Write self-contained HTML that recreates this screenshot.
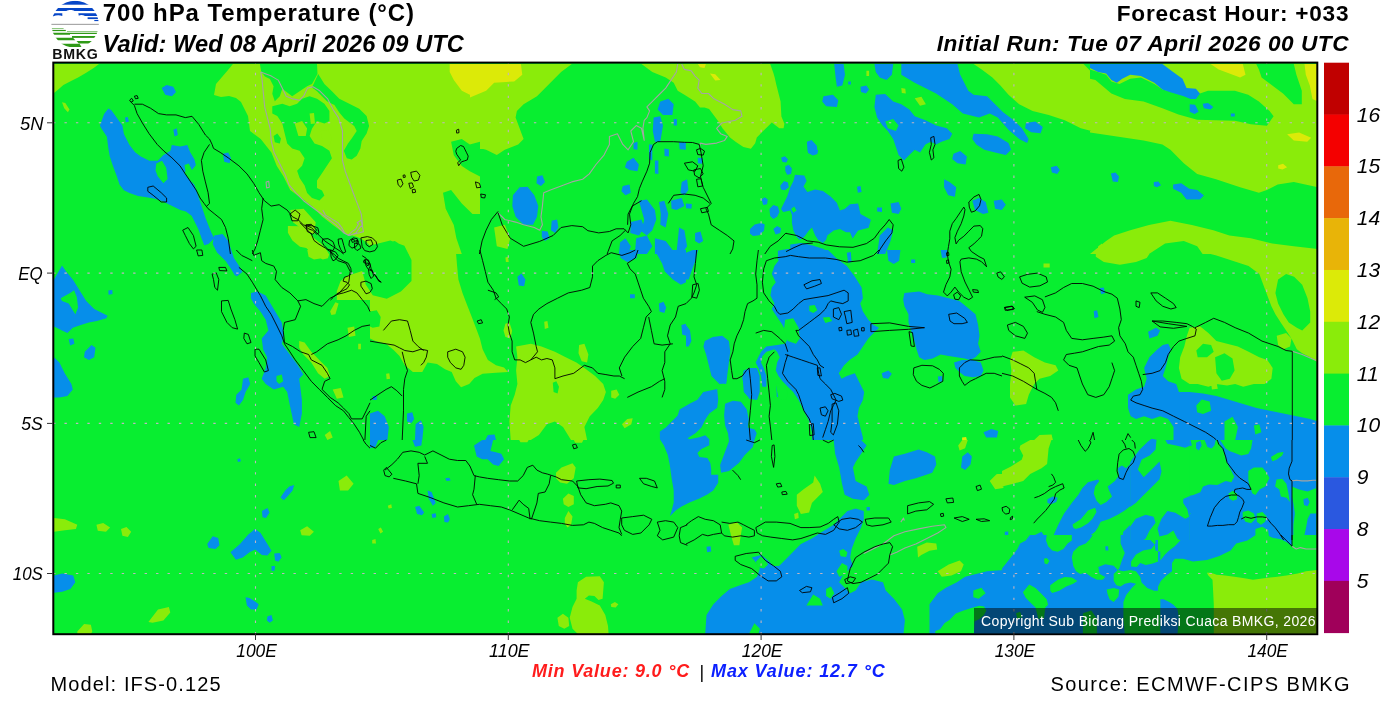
<!DOCTYPE html>
<html><head><meta charset="utf-8"><style>
html,body{margin:0;padding:0;background:#fff;width:1400px;height:709px;overflow:hidden}
svg{position:absolute;left:0;top:0}
text{font-family:"Liberation Sans",Arial,sans-serif}
</style></head><body>
<svg width="1400" height="709" viewBox="0 0 1400 709">
<defs><clipPath id="mc"><rect x="53.3" y="62.6" width="1264.0" height="571.6"/></clipPath></defs>
<g clip-path="url(#mc)">
<rect x="0" y="0" width="1400" height="709" fill="#08ee30"/>
<path d="M54.0,64.0 L99.0,64.0 L93.7,68.0 L86.2,72.8 L78.1,77.4 L70.1,81.4 L63.4,84.9 L58.0,89.7 L54.0,92.9Z M62.0,102.3 L65.3,103.1 L69.5,109.6 L67.9,112.2 L64.2,108.2Z M232.9,64.0 L480.0,64.0 L480.0,254.0 L378.7,254.0 L376.0,246.3 L368.0,241.0 L357.2,236.9 L343.8,232.9 L333.0,224.9 L322.4,216.8 L311.7,206.0 L301.0,198.0 L290.2,190.0 L283.5,176.6 L276.8,165.9 L271.4,152.5 L260.7,139.0 L250.0,131.0 L248.0,116.0 L244.0,108.0 L241.0,102.0 L236.0,98.0 L229.0,96.0 L221.0,97.0 L214.0,95.0 L216.0,84.0 L222.0,77.0 L228.0,70.0Z M470.0,64.0 L571.8,64.0 L561.1,72.0 L547.7,85.4 L537.0,96.2 L523.6,104.2 L516.9,110.9 L515.6,117.6 L519.6,128.3 L523.6,139.0 L518.2,144.4 L504.8,149.8 L496.8,155.1 L486.1,149.8 L475.4,147.1 L470.0,149.8Z M470.0,163.2 L476.7,171.2 L478.6,190.0 L476.7,206.1 L475.4,219.5 L470.0,223.5Z M494.1,227.5 L504.8,224.8 L510.2,238.2 L507.5,248.9 L496.8,246.3Z M641.5,64.0 L770.2,64.0 L773.4,73.1 L774.7,77.4 L776.4,84.9 L780.6,101.5 L781.4,116.5 L784.4,123.8 L783.6,128.3 L779.3,128.3 L771.8,122.4 L768.8,125.4 L762.7,131.5 L756.8,137.4 L755.2,143.3 L750.9,148.7 L743.4,147.1 L735.9,142.0 L730.0,137.4 L722.5,128.3 L717.9,120.8 L709.1,109.0 L704.5,107.4 L700.0,107.4 L695.1,101.5 L684.4,94.8 L677.7,90.8 L673.7,82.8 L665.7,77.4 L652.3,72.0Z M973.6,64.0 L1083.5,64.0 L1091.5,72.0 L1102.0,77.4 L1102.0,133.7 L1080.8,128.3 L1064.7,120.3 L1048.7,114.9 L1032.6,110.9 L1019.2,104.2 L1008.5,94.8 L1000.4,85.4 L992.4,77.4 L981.7,69.4Z M901.3,88.1 L905.3,88.7 L905.8,93.5 L901.8,92.9Z M914.7,98.3 L921.4,96.7 L925.9,104.2 L920.0,105.8Z M866.4,70.7 L869.1,70.7 L869.1,76.1 L866.4,76.1Z M1098.2,246.3 L1102.0,243.6 L1102.0,254.0 L1096.9,254.0Z M1090.0,64.0 L1317.9,64.0 L1317.9,187.3 L1293.8,182.0 L1277.7,184.6 L1266.9,190.0 L1258.9,192.7 L1240.1,187.3 L1216.0,179.3 L1197.2,173.9 L1183.8,163.2 L1170.4,149.8 L1162.4,144.4 L1143.6,140.4 L1116.8,136.4 L1090.0,132.4Z M1090.0,254.1 L1106.1,240.9 L1114.1,235.6 L1130.2,230.2 L1149.0,224.9 L1170.4,220.8 L1191.9,224.9 L1213.3,230.2 L1229.4,235.6 L1250.9,238.3 L1272.3,243.6 L1293.8,246.3 L1317.9,249.0 L1317.9,254.1Z M307.3,250.0 L324.7,250.0 L323.4,258.0 L314.0,259.4 L308.6,256.7Z M330.1,311.6 L335.4,302.3 L338.6,303.6 L335.4,314.3 L331.4,314.9Z M347.5,327.7 L354.2,326.4 L355.5,335.8 L348.8,337.1Z M299.2,341.1 L304.6,342.5 L311.3,351.8 L319.3,359.9 L327.4,367.9 L330.1,376.0 L324.7,378.7 L318.0,373.3 L311.3,362.6 L303.3,354.5 L299.2,347.8Z M332.7,389.4 L340.8,388.0 L343.5,397.4 L336.8,398.8Z M324.7,434.9 L330.1,430.9 L332.7,437.6 L327.4,440.0Z M358.2,343.8 L360.9,343.8 L360.9,349.2 L358.2,349.2Z M407.5,250.0 L455.8,250.0 L457.1,266.1 L458.4,279.5 L462.5,292.9 L466.5,303.6 L471.8,317.0 L475.9,327.7 L479.9,338.4 L482.6,349.2 L487.9,359.9 L496.0,365.3 L504.0,367.4 L508.0,372.0 L496.0,372.8 L482.6,373.8 L474.5,378.1 L469.2,384.0 L461.1,387.2 L455.8,381.3 L451.7,372.0 L445.0,369.3 L437.0,363.9 L427.6,362.6 L422.3,372.0 L412.9,372.0 L404.8,365.3 L399.5,355.9 L394.1,350.5 L386.1,343.8 L375.4,341.1 L370.0,338.4 L370.0,284.8 L378.0,290.2 L386.1,292.9 L396.8,287.5 L407.5,276.8 L410.2,266.1Z M516.1,346.5 L530.8,343.8 L541.5,346.5 L554.9,351.8 L565.7,357.2 L576.4,362.6 L584.4,367.9 L595.1,376.0 L603.2,384.0 L605.9,392.1 L603.2,400.1 L597.8,408.1 L589.8,416.2 L584.4,426.9 L587.1,440.0 L571.0,440.0 L563.0,426.9 L554.9,421.5 L546.9,424.2 L538.9,434.9 L530.8,440.0 L510.7,440.0 L509.4,421.5 L510.7,405.5 L514.7,394.7 L517.4,384.0 L516.1,370.6 L517.4,357.2Z M505.4,323.7 L509.4,322.4 L512.1,330.4 L510.7,338.4 L505.4,337.1 L503.5,330.4Z M544.2,321.8 L547.4,321.0 L548.5,327.7 L544.8,329.1Z M579.1,345.1 L584.4,343.8 L588.4,354.5 L587.1,362.6 L581.7,361.2 L578.5,353.2Z M611.2,390.7 L616.6,389.4 L619.3,394.7 L615.2,398.8 L611.2,397.4Z M621.9,424.2 L627.3,418.9 L632.7,418.3 L631.3,424.2 L624.6,428.2Z M505.4,257.5 L508.0,256.7 L508.8,262.1 L505.9,262.1Z M386.1,373.8 L389.3,373.3 L390.1,378.7 L386.6,379.2Z M1095.8,250.0 L1152.1,250.0 L1146.7,258.0 L1136.0,262.1 L1119.9,264.7 L1103.8,262.1 L1095.8,256.7Z M1195.0,250.0 L1318.0,250.0 L1318.0,362.6 L1310.2,357.2 L1302.2,353.2 L1296.8,349.2 L1291.5,338.4 L1286.1,330.4 L1280.7,322.4 L1275.4,314.3 L1271.4,306.3 L1267.3,295.6 L1263.3,284.8 L1259.3,274.1 L1248.6,266.1 L1232.5,260.7 L1216.4,255.4Z M1276.7,335.8 L1286.1,333.1 L1291.5,338.4 L1290.1,346.5 L1283.4,349.2 L1278.1,345.1Z M1189.6,327.7 L1200.3,326.4 L1208.4,333.1 L1216.4,341.1 L1227.1,343.8 L1237.9,346.5 L1248.6,351.8 L1259.3,357.2 L1267.3,359.9 L1272.7,367.9 L1271.4,378.7 L1264.7,384.0 L1253.9,384.0 L1243.2,386.7 L1235.2,384.0 L1227.1,385.4 L1216.4,384.0 L1208.4,386.7 L1197.7,384.0 L1189.6,384.0 L1181.6,378.7 L1178.9,367.9 L1180.2,357.2 L1184.3,346.5 L1186.9,335.8Z M1211.1,382.7 L1216.4,382.1 L1217.8,388.8 L1211.9,389.4Z M1012.7,351.8 L1023.4,350.5 L1034.2,357.2 L1044.9,362.6 L1055.6,365.3 L1058.3,370.6 L1050.2,376.0 L1039.5,378.7 L1034.2,384.0 L1028.8,394.7 L1026.1,404.1 L1015.4,405.5 L1010.0,397.4 L1010.0,384.0 L1011.4,370.6 L1010.0,359.9Z M1043.5,263.4 L1049.7,263.4 L1049.7,267.4 L1043.5,267.4Z M1034.2,440.0 L1039.5,434.9 L1051.6,434.4 L1052.9,440.0Z M54.0,518.0 L64.9,519.3 L77.3,524.8 L75.9,528.9 L64.9,530.3 L54.0,531.7Z M96.4,524.8 L103.2,522.9 L110.1,527.6 L106.0,531.7 L97.8,530.8Z M121.0,528.9 L126.5,527.0 L131.2,531.7 L127.9,537.1 L122.4,535.8Z M338.5,481.0 L346.7,475.6 L353.6,483.8 L348.1,490.6 L339.9,490.6Z M300.2,530.3 L307.1,526.2 L313.9,531.7 L309.8,535.8 L301.6,535.2Z M148.4,621.9 L158.0,609.6 L168.9,606.9 L170.3,612.4 L163.4,620.6 L152.5,622.8Z M77.3,631.5 L84.1,623.9 L90.9,624.7 L92.3,631.5 L90.9,634.0 L77.3,634.0Z M556.0,472.8 L561.5,467.4 L572.5,463.3 L575.7,467.4 L573.8,478.3 L567.0,483.8 L560.2,482.4 L556.0,478.3Z M562.9,498.8 L568.4,493.4 L573.8,496.1 L573.8,504.3 L568.4,507.0 L563.7,504.3Z M564.8,518.0 L568.4,511.1 L572.5,516.6 L571.1,524.8 L567.5,527.6 L564.8,523.4Z M577.9,582.3 L586.1,576.8 L599.8,576.3 L603.9,582.3 L602.6,598.7 L598.5,600.1 L594.4,596.0 L588.9,595.4 L584.8,598.7 L591.6,601.4 L599.8,605.5 L605.3,615.1 L608.0,626.0 L608.6,634.0 L577.9,634.0 L572.5,628.8 L569.7,617.8 L572.5,606.9 L576.6,598.7 L576.6,590.5Z M557.4,617.8 L562.9,613.7 L568.4,617.8 L569.2,626.0 L564.3,628.8 L558.8,626.0Z M610.8,604.2 L614.9,602.0 L618.4,604.2 L615.7,607.4 L611.3,606.9Z M378.2,528.9 L380.9,527.6 L383.1,531.7 L380.4,533.6Z M372.2,539.9 L375.5,539.0 L376.0,543.4 L372.2,543.4Z M387.8,505.7 L391.3,504.3 L391.9,507.9 L388.6,508.4Z M519.1,440.0 L528.7,440.0 L527.3,442.2 L520.5,442.2Z M573.8,440.0 L583.4,440.0 L582.0,442.7 L575.2,442.7Z M796.8,494.7 L803.6,489.2 L813.2,482.4 L814.6,475.6 L820.1,483.8 L822.8,492.0 L817.3,497.5 L811.9,502.9 L809.1,512.5 L800.9,513.9 L796.8,505.7Z M794.1,513.9 L798.2,512.5 L798.7,518.0 L794.9,519.3Z M728.4,524.8 L736.6,522.1 L742.1,527.6 L740.7,535.8 L739.4,545.3 L733.9,545.3 L731.1,535.8Z M917.2,546.7 L926.8,542.6 L936.3,543.4 L937.2,549.4 L929.5,550.8 L921.3,554.9 L918.0,557.6Z M937.7,571.3 L948.7,564.5 L959.6,560.4 L963.7,564.5 L961.0,571.3 L951.4,575.4 L941.8,576.8Z M958.2,445.5 L962.3,440.0 L967.8,440.0 L965.1,448.2 L959.6,450.4Z M989.7,481.0 L996.5,474.2 L1003.4,472.8 L1003.4,487.9 L995.2,489.2Z M1020.3,445.6 L1030.2,440.0 L1051.4,440.0 L1048.6,448.5 L1047.1,464.0 L1041.5,468.2 L1030.2,473.9 L1023.2,480.9 L1013.3,483.7 L1002.0,486.6 L1002.0,471.0 L1010.5,466.8 L1021.7,459.7 L1023.2,455.5 L1019.6,448.5Z M322.8,210.0 L400.0,210.0 L400.0,241.7 L388.8,243.0 L381.2,246.8 L376.1,248.1 L371.1,246.8 L366.0,241.7 L359.6,237.9 L353.3,235.4 L348.2,235.4 L343.1,232.8 L338.1,227.8 L331.7,222.7 L325.4,217.6Z M287.9,225.9 L300.0,226.2 L305.1,227.8 L310.2,234.1 L315.2,239.2 L320.3,243.0 L325.4,248.1 L329.2,254.4 L327.9,258.2 L322.8,259.5 L315.2,255.7 L310.2,251.9 L306.3,248.1 L300.0,246.8 L292.4,240.5 L287.9,232.8Z M336.8,291.2 L340.6,281.1 L347.0,276.0 L354.6,273.5 L362.2,270.9 L366.0,273.5 L371.1,278.5 L376.1,283.6 L381.2,288.7 L383.8,300.0 L336.8,300.0Z" fill="#8aec0a"/>
<path d="M449.7,64.0 L480.0,64.0 L480.0,88.1 L469.8,94.8 L461.8,90.8 L453.8,80.1 L449.7,72.0Z M470.0,64.0 L520.9,64.0 L522.3,74.7 L514.2,81.4 L494.1,82.8 L486.1,90.8 L470.0,97.5Z M697.8,64.0 L705.9,64.0 L704.5,68.0 L700.0,67.2Z M709.9,73.4 L715.2,74.2 L720.6,80.1 L715.2,80.6Z M1210.6,64.0 L1242.8,64.0 L1245.5,74.7 L1240.1,77.4 L1229.4,73.4 L1218.7,69.4Z M1304.5,64.0 L1317.9,64.0 L1317.9,101.5 L1312.5,98.9 L1309.8,85.4 L1305.8,74.7Z M1287.1,134.2 L1299.1,132.4 L1311.2,137.7 L1307.2,141.7 L1293.8,140.4Z M1278.2,165.3 L1283.0,163.7 L1287.1,167.2 L1282.5,169.4 L1278.2,168.6Z M962.1,437.6 L966.1,437.1 L966.9,440.0 L962.1,440.0Z" fill="#dcea08"/>
<path d="M451.1,141.7 L461.8,139.1 L469.8,144.4 L480.0,141.7 L480.0,176.6 L469.8,171.2 L461.8,165.9 L453.8,155.2Z M443.0,192.7 L451.1,190.0 L461.8,203.4 L472.5,214.1 L480.0,214.1 L480.0,254.1 L461.8,254.1 L456.4,238.3 L453.8,224.9 L445.7,208.8Z M378.7,254.1 L384.0,243.6 L394.8,240.9 L402.8,246.3 L405.5,254.1Z M1090.0,69.4 L1106.1,74.7 L1111.4,81.4 L1119.5,84.1 L1130.2,78.7 L1140.9,77.4 L1154.3,84.1 L1162.4,89.5 L1178.5,93.5 L1191.9,90.8 L1199.9,93.5 L1208.0,90.8 L1218.7,90.8 L1234.8,90.8 L1248.2,94.8 L1258.9,101.5 L1269.6,110.9 L1273.6,116.3 L1266.9,125.7 L1250.9,124.3 L1234.8,120.8 L1216.0,120.3 L1197.2,119.8 L1178.5,114.4 L1162.4,108.2 L1143.6,101.5 L1124.9,98.9 L1111.4,93.5 L1103.4,86.8 L1095.4,80.1 L1090.0,78.7Z M1256.2,64.0 L1293.8,64.0 L1296.4,74.7 L1301.8,90.8 L1301.8,104.2 L1293.8,104.2 L1283.0,93.5 L1272.3,85.4 L1261.6,77.4 L1258.9,69.4Z M1149.0,254.1 L1165.1,243.6 L1183.8,240.9 L1197.2,246.3 L1202.6,254.1Z M370.0,311.6 L376.7,310.3 L380.7,317.0 L379.4,326.4 L372.7,327.7 L370.0,326.4Z M552.8,382.7 L556.3,381.3 L559.0,386.7 L557.6,393.4 L553.6,392.1Z M1278.1,279.5 L1286.1,274.1 L1294.1,276.8 L1302.2,284.8 L1307.5,298.2 L1310.2,311.6 L1310.2,322.4 L1302.2,330.4 L1296.8,327.7 L1288.8,322.4 L1283.4,314.3 L1278.1,303.6 L1275.4,292.9Z M1196.3,350.5 L1203.0,343.8 L1211.1,345.1 L1213.7,351.8 L1207.0,357.2 L1197.7,357.2Z M1215.1,357.2 L1224.5,353.2 L1232.5,358.5 L1234.6,370.6 L1229.8,378.7 L1221.8,380.8 L1216.4,373.3Z M259.9,64.0 L317.0,64.0 L317.5,73.9 L312.0,83.9 L307.1,86.3 L299.6,91.3 L292.2,96.3 L287.2,92.5 L282.3,88.8 L279.8,96.3 L274.8,101.2 L272.3,93.8 L273.6,86.3 L269.9,78.9 L264.9,76.4 L261.2,71.4Z M318.2,73.9 L324.4,83.9 L331.9,91.3 L339.3,98.7 L349.3,103.7 L359.2,108.7 L366.6,116.1 L369.1,126.0 L366.6,133.5 L361.7,140.9 L360.4,148.4 L356.7,155.8 L351.7,159.5 L346.8,158.3 L343.8,150.8 L348.0,143.4 L351.7,138.4 L356.7,131.0 L354.2,126.0 L349.3,122.3 L344.3,118.6 L339.3,112.4 L334.4,104.9 L326.9,101.2 L322.0,96.3 L317.0,91.3 L312.0,87.6Z M272.3,106.2 L282.3,103.7 L289.7,106.2 L297.1,103.7 L302.1,98.7 L309.6,96.3 L317.0,98.7 L324.4,103.7 L329.4,111.1 L329.4,121.1 L324.4,123.6 L317.0,121.1 L312.0,128.5 L309.6,136.0 L314.5,143.4 L322.0,145.9 L329.4,150.8 L331.9,158.3 L326.9,165.7 L322.0,173.2 L317.0,180.6 L317.0,188.1 L322.0,190.6 L324.4,195.5 L319.5,200.5 L312.0,198.0 L307.1,193.0 L304.6,185.6 L299.6,178.1 L297.1,170.7 L302.1,165.7 L304.6,158.3 L299.6,150.8 L292.2,148.4 L287.2,143.4 L284.7,133.5 L282.3,123.6 L277.3,116.1 L272.3,113.6Z M273.6,136.0 L277.3,133.5 L281.0,138.4 L279.8,143.4 L274.8,142.2Z M294.7,210.4 L302.1,207.9 L309.6,215.4 L304.6,222.8 L297.1,220.3Z M369.2,245.8 L390.3,240.5 L404.4,245.8 L411.5,259.9 L411.5,281.1 L400.9,291.6 L386.8,298.7 L372.7,295.2 L365.7,284.6 L362.1,270.5 L365.7,256.4Z" fill="#08ee30"/>
<path d="M290.2,210.1 L303.6,208.8 L315.7,222.2 L314.3,234.2 L303.6,230.2 L292.9,222.2Z M294.7,123.6 L302.1,121.1 L307.1,128.5 L305.8,136.0 L298.4,136.0Z M309.6,113.6 L314.0,113.1 L315.0,123.6 L310.8,124.0Z M320.7,131.0 L328.2,129.8 L331.9,138.4 L329.4,145.9 L323.2,144.6Z" fill="#8aec0a"/>
<path d="M161.7,88.1 L166.6,84.9 L173.3,86.8 L176.0,92.1 L171.9,96.2 L165.2,94.8Z M173.3,129.7 L176.8,128.3 L177.8,135.0 L174.6,136.4Z M222.9,153.8 L228.2,152.4 L230.9,157.8 L229.6,163.2 L224.2,161.8Z M125.0,117.6 L127.7,117.1 L129.0,121.6 L125.8,122.4Z M519.6,187.3 L527.6,186.8 L534.3,195.3 L538.3,206.1 L537.0,216.8 L533.0,224.8 L523.6,224.8 L515.6,216.8 L512.3,206.1 L512.9,195.3Z M537.0,176.6 L542.4,175.2 L545.0,181.9 L541.0,186.0 L536.5,183.3Z M551.7,220.8 L557.1,219.5 L558.4,227.5 L555.2,232.9 L550.9,230.2Z M541.8,230.7 L547.7,231.5 L549.6,238.2 L545.0,240.9 L541.8,236.9Z M660.3,101.5 L668.3,98.8 L673.7,104.2 L672.4,114.9 L663.0,114.9 L657.6,109.6Z M653.6,117.6 L660.3,116.3 L663.0,125.6 L660.3,141.7 L654.9,141.7 L652.8,131.0Z M673.7,118.9 L676.9,118.9 L676.9,125.6 L673.7,125.6Z M626.8,161.8 L633.5,157.8 L638.9,164.5 L637.5,171.2 L629.5,169.9 L624.9,167.2Z M622.8,186.0 L629.5,184.6 L630.8,192.7 L625.5,195.3 L621.4,191.3Z M633.5,143.1 L637.5,141.7 L637.5,149.8 L633.5,149.2Z M649.0,144.4 L652.3,144.4 L652.3,160.5 L649.0,159.1Z M654.9,160.5 L658.4,160.5 L658.4,173.9 L654.9,173.4Z M664.3,148.4 L668.9,149.2 L668.9,156.5 L664.6,155.9Z M679.1,142.3 L685.8,142.3 L685.8,149.8 L679.6,149.2Z M638.9,200.7 L646.9,199.4 L654.9,210.1 L656.3,219.5 L652.3,230.2 L646.9,235.5 L641.5,231.5 L644.2,219.5 L641.5,210.1Z M630.8,222.1 L641.5,219.5 L644.2,227.5 L638.9,235.5 L630.3,232.9Z M659.0,202.0 L664.3,200.7 L668.3,214.1 L665.7,227.5 L660.3,224.8 L660.8,214.1Z M671.0,200.7 L681.7,198.0 L684.4,206.1 L676.4,210.1 L671.6,208.7Z M681.7,181.9 L687.1,179.3 L688.4,190.0 L684.4,195.3 L680.4,192.7Z M685.8,203.4 L691.9,203.9 L691.4,208.7 L686.0,208.2Z M620.1,242.2 L625.5,238.2 L630.8,246.3 L628.1,254.0 L618.8,254.0Z M636.2,238.2 L646.9,235.5 L652.3,246.3 L646.9,254.0 L634.8,254.0Z M654.9,238.2 L665.7,240.9 L673.7,251.6 L673.7,254.0 L654.9,254.0Z M679.1,227.5 L684.4,230.2 L687.1,246.3 L681.7,254.0 L676.4,254.0 L677.7,240.9Z M695.1,232.9 L700.5,231.5 L703.2,240.9 L699.2,243.6 L695.1,240.9Z M697.8,157.8 L702.6,158.3 L702.1,163.7 L697.8,163.2Z M901.3,64.0 L957.5,64.0 L960.2,74.7 L968.3,90.8 L973.6,94.8 L987.0,96.2 L995.1,104.2 L1003.1,112.2 L1013.8,120.3 L1021.9,128.3 L1028.6,139.0 L1027.2,143.1 L1019.2,139.0 L1008.5,129.7 L997.7,117.6 L989.7,113.6 L979.0,117.6 L962.9,113.6 L952.2,104.2 L936.1,93.5 L914.7,82.8 L901.3,74.7Z M834.2,64.0 L843.6,64.0 L845.0,74.7 L842.3,85.4 L836.9,86.8 L835.6,77.4Z M874.4,64.0 L893.2,64.0 L891.9,74.7 L886.5,80.1 L879.8,77.4 L875.8,72.0Z M848.2,81.4 L850.9,81.4 L850.9,84.6 L848.2,84.6Z M860.5,86.8 L866.4,85.4 L869.1,89.5 L865.9,93.5 L861.0,92.1Z M823.5,96.2 L832.9,94.8 L838.3,100.2 L836.9,106.9 L826.2,106.3 L822.2,101.5Z M875.8,94.8 L885.2,94.0 L893.2,101.5 L901.3,104.2 L909.3,109.6 L914.7,116.3 L925.4,120.3 L936.1,125.6 L946.8,128.3 L952.2,133.7 L949.5,139.0 L941.5,141.7 L936.1,144.4 L930.7,141.7 L925.4,144.4 L920.0,152.4 L914.7,149.8 L909.3,155.1 L903.9,160.5 L898.6,155.1 L895.9,147.1 L893.2,139.0 L887.8,131.0 L882.5,125.6 L877.1,117.6 L874.4,106.9Z M973.6,133.7 L987.0,134.2 L997.7,136.4 L1008.5,143.1 L1011.1,149.8 L1005.8,155.1 L995.1,152.4 L984.3,149.8 L976.3,144.4 L972.3,139.0Z M1025.9,123.0 L1035.3,121.6 L1042.8,127.0 L1040.6,133.2 L1031.2,132.3 L1025.1,128.3Z M953.5,153.8 L960.2,151.1 L966.9,156.5 L965.6,164.5 L957.5,163.2 L952.2,159.1Z M1050.8,167.2 L1056.7,165.8 L1059.9,169.9 L1057.2,173.9 L1051.9,172.5Z M806.9,141.7 L811.5,139.9 L816.8,145.7 L817.6,153.8 L811.5,155.1 L807.4,149.8Z M944.1,179.3 L949.5,181.9 L956.2,187.3 L954.9,196.7 L948.2,195.3 L944.1,187.3Z M857.0,186.8 L860.5,186.0 L861.6,192.1 L857.8,192.7Z M972.3,200.7 L979.0,198.0 L985.7,202.0 L988.4,212.8 L983.0,214.1 L975.0,210.1Z M993.7,200.7 L1001.8,199.4 L1005.8,204.7 L1001.8,210.1 L995.1,208.7Z M877.1,207.4 L882.0,207.4 L882.0,211.9 L877.1,211.4Z M890.5,203.4 L898.6,202.0 L901.3,208.7 L898.6,214.1 L891.9,212.8Z M879.8,235.5 L887.8,227.5 L893.2,230.2 L890.5,240.9 L885.2,254.0 L877.1,254.0Z M786.0,248.9 L802.1,246.3 L820.8,248.9 L823.5,254.0 L786.0,254.0Z M1094.2,64.0 L1102.0,64.0 L1102.0,70.7 L1096.9,69.9Z M1090.0,64.0 L1162.4,64.0 L1173.1,72.0 L1182.5,78.7 L1186.5,88.1 L1195.9,88.7 L1199.9,93.5 L1195.9,98.9 L1190.5,98.9 L1183.8,96.2 L1170.4,92.2 L1162.4,89.5 L1154.3,82.8 L1140.9,76.1 L1130.2,74.7 L1122.2,78.7 L1116.8,82.8 L1111.4,80.1 L1106.1,73.4 L1098.0,72.0 L1090.0,68.0Z M1189.7,104.2 L1195.1,104.8 L1198.6,111.7 L1194.6,113.9 L1189.7,111.7Z M1202.6,103.7 L1208.0,102.9 L1213.3,106.9 L1210.6,109.6 L1203.9,108.2Z M1230.8,113.6 L1234.8,113.6 L1234.8,116.5 L1230.8,116.5Z M1110.9,173.4 L1115.5,172.6 L1119.0,176.6 L1117.9,182.0 L1112.8,181.4Z M1153.8,182.0 L1158.4,181.4 L1161.0,185.2 L1157.0,187.3 L1153.8,186.0Z M1173.1,184.6 L1181.2,183.3 L1189.2,188.7 L1197.2,190.0 L1203.9,195.4 L1199.9,199.4 L1186.5,199.4 L1181.2,192.7 L1173.1,188.7Z M54.0,279.5 L62.0,265.5 L66.1,271.4 L72.8,279.5 L79.5,290.2 L86.2,300.9 L94.2,309.0 L102.2,313.0 L107.6,315.7 L106.3,318.3 L96.9,321.0 L88.8,322.4 L80.8,325.0 L72.8,327.7 L67.4,333.1 L62.0,330.4 L56.7,327.7 L54.0,326.4Z M68.7,339.0 L73.3,338.4 L74.4,343.8 L70.1,345.4Z M84.8,351.8 L91.5,345.1 L95.5,347.8 L94.2,357.2 L88.8,359.9 L84.0,357.2Z M54.0,357.2 L59.4,362.6 L64.7,373.3 L71.4,384.0 L72.8,389.4 L67.4,396.1 L59.4,397.4 L54.0,397.4Z M108.9,290.2 L112.4,290.2 L112.4,293.4 L108.9,293.4Z M217.5,250.0 L229.6,250.0 L232.2,258.0 L238.9,266.1 L241.6,272.8 L234.9,275.5 L230.9,268.8 L225.5,260.7Z M251.0,292.9 L257.7,291.5 L265.7,295.6 L273.8,309.0 L281.8,322.4 L284.0,335.8 L281.8,343.8 L289.9,354.5 L297.9,365.3 L303.3,374.6 L299.2,378.7 L300.6,389.4 L301.9,400.1 L301.9,413.5 L299.2,426.9 L293.9,424.2 L289.9,405.5 L287.2,392.1 L283.2,386.7 L273.8,389.4 L265.7,384.0 L261.7,378.7 L265.7,367.9 L267.1,357.2 L263.1,349.2 L261.7,338.4 L268.4,330.4 L265.7,319.7 L260.4,311.6 L253.7,303.6 L251.0,298.2Z M243.0,378.7 L248.3,377.3 L250.2,384.0 L245.6,392.1 L243.0,400.1 L238.9,405.5 L235.5,402.8 L236.3,394.7 L241.6,389.4Z M517.4,276.8 L521.4,273.6 L525.5,279.5 L524.1,286.2 L518.8,285.4Z M619.3,250.0 L638.0,250.0 L636.7,258.0 L627.3,262.1 L620.6,258.0Z M656.8,254.0 L664.8,250.0 L686.0,250.0 L686.0,282.2 L680.9,284.8 L672.9,279.5 L664.8,271.4 L662.1,263.4Z M658.9,303.6 L663.5,301.7 L666.2,307.6 L664.3,313.0 L659.5,311.6Z M630.0,294.2 L634.8,294.2 L634.8,298.2 L630.0,298.2Z M681.4,325.0 L686.0,323.7 L686.0,335.8 L682.2,334.4Z M370.0,413.5 L378.0,410.8 L384.7,416.2 L388.8,426.9 L387.4,440.0 L370.0,440.0Z M407.0,413.5 L412.3,412.2 L414.2,418.9 L411.5,422.9 L407.0,421.5Z M415.6,424.2 L420.9,420.2 L423.6,426.9 L422.3,440.0 L415.0,440.0Z M485.3,440.0 L487.9,434.9 L494.6,434.4 L496.0,440.0Z M372.7,396.1 L376.7,396.1 L376.7,400.1 L372.7,400.1Z M779.8,252.7 L790.5,250.0 L828.1,250.0 L836.1,258.0 L846.8,266.1 L854.9,276.8 L861.6,287.5 L862.9,298.2 L860.2,303.6 L862.9,311.6 L868.3,319.7 L873.6,325.0 L879.0,327.7 L873.6,333.1 L868.3,338.4 L862.9,346.5 L857.5,354.5 L849.5,359.9 L844.1,365.3 L838.8,373.3 L841.5,378.7 L846.8,376.0 L854.9,373.3 L860.2,384.0 L864.2,392.1 L862.9,400.1 L858.9,408.1 L857.5,416.2 L860.2,426.9 L862.9,437.6 L862.9,440.0 L812.0,440.0 L812.0,432.3 L809.3,421.5 L803.9,410.8 L798.6,400.1 L793.2,392.1 L787.8,386.7 L782.5,381.3 L778.5,376.0 L775.8,370.6 L777.1,362.6 L779.8,357.2 L777.1,351.8 L774.4,349.2 L766.4,351.8 L762.4,355.9 L761.0,362.6 L763.7,367.9 L766.4,376.0 L766.4,386.7 L762.4,386.7 L761.0,376.0 L758.4,367.9 L755.7,362.6 L761.0,351.8 L766.4,346.5 L777.1,345.1 L785.2,343.8 L787.8,338.4 L785.2,330.4 L782.5,325.0 L777.1,317.0 L771.8,309.0 L774.4,303.6 L770.4,295.6 L771.8,287.5 L775.8,282.2 L771.8,274.1 L774.4,266.1 L778.5,260.7Z M904.4,292.9 L919.2,291.5 L927.2,294.2 L937.9,295.6 L948.7,298.2 L959.4,300.9 L967.4,307.6 L975.5,314.3 L978.1,325.0 L979.5,335.8 L978.1,343.8 L980.8,351.8 L975.5,357.2 L970.1,359.9 L964.7,358.5 L956.7,357.2 L948.7,355.9 L940.6,354.5 L932.6,358.5 L924.5,359.9 L919.2,357.2 L916.5,349.2 L913.8,338.4 L911.1,330.4 L908.5,322.4 L908.5,314.3 L904.4,306.3 L903.1,299.6Z M954.0,362.6 L962.1,359.9 L972.8,359.9 L980.8,362.6 L983.5,370.6 L980.8,376.0 L972.8,377.3 L964.7,376.0 L959.4,372.0 L955.4,367.9Z M704.8,341.1 L712.8,337.1 L722.2,335.8 L728.9,341.1 L730.2,351.8 L728.9,362.6 L727.5,373.3 L726.2,384.0 L718.2,382.7 L711.5,376.0 L708.8,365.3 L706.1,354.5 L703.4,346.5Z M686.0,325.0 L690.0,330.4 L691.4,341.1 L688.7,346.5 L686.0,346.5Z M743.6,370.6 L750.3,367.9 L757.0,367.9 L759.7,376.0 L759.7,392.1 L757.0,400.1 L749.0,398.8 L745.0,389.4 L742.3,378.7Z M686.0,252.7 L692.7,250.0 L698.1,250.0 L695.4,260.7 L691.4,271.4 L688.7,279.5 L686.0,279.5Z M881.7,373.3 L888.4,370.6 L891.8,373.8 L888.4,378.7 L883.0,378.1Z M937.9,376.5 L942.0,376.0 L942.5,381.3 L938.5,381.9Z M983.5,432.3 L991.5,429.0 L998.2,430.9 L996.9,437.6 L986.2,437.6Z M846.8,252.7 L850.8,252.1 L851.6,262.1 L848.2,262.9Z M887.0,250.0 L900.4,250.0 L899.1,260.7 L893.7,263.9 L888.4,260.7Z M911.1,259.4 L915.2,259.4 L915.2,262.9 L911.1,262.9Z M940.6,250.0 L947.3,250.0 L946.5,257.5 L942.0,258.0Z M1128.0,394.7 L1136.0,389.4 L1144.1,386.7 L1146.7,378.7 L1144.1,367.9 L1149.4,357.2 L1157.5,349.2 L1162.8,345.1 L1168.2,343.8 L1170.9,349.2 L1168.2,357.2 L1165.5,367.9 L1162.8,376.0 L1168.2,381.3 L1176.2,384.0 L1178.9,392.1 L1189.6,392.1 L1203.0,393.4 L1216.4,396.1 L1229.8,400.1 L1243.2,404.1 L1256.6,408.1 L1270.0,410.8 L1283.4,413.5 L1296.8,416.2 L1310.2,418.9 L1318.0,421.5 L1318.0,440.0 L1173.5,440.0 L1173.5,426.9 L1168.2,418.9 L1160.1,416.2 L1152.1,418.9 L1144.1,416.2 L1136.0,418.9 L1130.7,416.2 L1128.0,408.1Z M1148.1,331.7 L1156.1,327.7 L1160.1,330.4 L1157.5,335.8 L1149.4,338.4Z M1093.7,311.1 L1097.1,310.3 L1098.5,317.0 L1094.5,318.3Z M1099.8,288.1 L1103.8,287.5 L1105.2,292.9 L1101.2,294.2Z M54.0,575.4 L62.2,573.5 L73.2,575.4 L75.3,582.3 L70.4,589.1 L62.2,591.8 L54.0,592.7Z M207.2,544.0 L212.7,536.3 L218.2,537.9 L219.5,545.3 L215.4,548.9 L208.6,548.1Z M230.5,552.2 L240.0,544.0 L248.3,534.4 L255.1,528.9 L260.6,533.0 L267.4,544.0 L271.5,550.8 L267.4,555.5 L261.9,554.9 L255.1,549.4 L249.6,552.2 L242.8,557.6 L235.9,559.8Z M274.2,553.5 L279.7,553.0 L281.6,557.6 L278.4,561.8 L275.1,560.4Z M271.5,565.9 L275.1,565.9 L274.5,570.8 L271.5,570.8Z M261.9,511.1 L267.4,507.9 L269.6,512.5 L266.0,518.0 L262.5,517.2Z M280.5,497.5 L285.2,490.6 L289.3,486.5 L294.2,485.1 L292.6,490.6 L287.9,496.1 L283.8,500.2Z M237.3,459.2 L240.0,458.3 L240.9,461.3 L237.9,461.9Z M245.5,597.3 L249.6,598.1 L255.1,601.4 L258.7,604.2 L256.5,609.6 L251.0,609.6 L246.9,605.5Z M267.4,616.5 L271.5,615.1 L272.9,620.6 L269.6,622.8 L266.9,620.6Z M474.0,445.5 L482.2,440.0 L493.1,440.0 L491.8,445.5 L490.4,450.9 L495.9,452.3 L501.3,453.7 L504.1,459.2 L498.6,466.0 L493.1,464.6 L487.6,459.2 L482.2,459.2 L476.7,456.4Z M427.5,490.6 L431.6,492.0 L435.7,502.9 L432.9,505.7 L428.8,498.8Z M415.1,507.0 L419.2,505.7 L424.2,512.5 L422.0,515.2 L417.1,513.9Z M431.6,513.9 L435.7,513.3 L436.2,517.2 L432.4,518.0Z M443.9,516.6 L448.0,513.9 L449.9,519.3 L448.0,522.6 L444.4,522.1Z M445.2,478.3 L449.3,477.8 L450.7,480.5 L446.6,481.0Z M412.4,440.0 L422.0,440.0 L421.4,445.5 L415.1,446.8Z M370.0,440.0 L378.2,440.0 L375.5,446.8 L370.0,448.2Z M833.7,440.0 L861.1,440.0 L866.6,445.5 L861.1,453.7 L855.6,461.9 L852.9,467.4 L855.6,481.0 L866.6,486.5 L869.3,494.7 L863.8,500.2 L852.9,498.8 L844.7,494.7 L842.0,483.8 L839.2,467.4 L835.1,453.7Z M893.9,456.4 L904.9,453.7 L918.6,449.6 L926.8,452.3 L935.0,456.4 L936.3,464.6 L932.2,472.8 L924.0,475.6 L915.8,478.3 L904.9,481.0 L893.9,485.1 L888.5,483.8 L889.8,470.1Z M962.3,456.4 L967.8,452.3 L971.9,456.4 L970.5,464.6 L965.1,470.1 L961.0,467.4Z M820.1,533.0 L833.7,524.8 L839.2,519.3 L847.4,511.1 L855.6,508.4 L863.8,511.1 L863.8,519.3 L861.1,527.6 L855.6,538.5 L851.5,549.4 L850.2,557.6 L852.9,565.9 L847.4,571.3 L842.0,576.8 L839.2,582.3 L844.7,587.7 L850.2,593.2 L855.6,590.5 L861.1,582.3 L872.0,579.5 L883.0,582.3 L885.7,590.5 L893.9,598.7 L902.1,609.6 L904.9,620.6 L903.5,634.0 L705.2,634.0 L706.5,615.1 L713.4,604.2 L721.6,596.0 L729.8,589.1 L740.7,585.0 L748.9,582.3 L757.1,576.8 L759.9,568.6 L754.4,560.4 L751.7,557.6 L761.2,554.9 L768.1,560.4 L773.6,565.9 L779.0,565.9 L784.5,560.4 L790.0,554.9 L795.4,549.4 L800.9,544.0 L806.4,541.2 L811.9,538.5Z M929.5,604.2 L937.7,593.2 L945.9,587.7 L956.9,582.3 L965.1,576.8 L976.0,574.1 L987.0,571.3 L1003.4,570.0 L1003.4,634.0 L929.5,634.0Z M866.6,507.0 L869.9,507.0 L869.9,510.6 L866.6,510.6Z M706.5,546.7 L710.6,546.2 L711.2,551.6 L707.1,552.2Z M1051.4,540.0 L1058.4,524.6 L1064.1,513.4 L1072.5,502.1 L1078.2,495.0 L1082.4,488.0 L1088.0,482.3 L1097.9,479.5 L1099.3,480.9 L1095.1,486.6 L1093.7,493.6 L1096.5,500.7 L1100.7,504.9 L1106.4,502.1 L1112.0,496.4 L1109.2,490.8 L1107.8,486.6 L1114.9,480.9 L1119.1,475.3 L1117.7,468.2 L1121.9,465.4 L1126.1,468.2 L1134.6,459.7 L1143.1,451.3 L1148.7,444.2 L1151.5,440.0 L1160.3,440.0 L1160.3,459.7 L1155.8,462.6 L1150.1,469.6 L1141.7,473.9 L1143.1,476.7 L1150.1,475.3 L1160.3,468.2 L1160.3,478.1 L1152.9,485.1 L1145.9,493.6 L1138.8,499.2 L1131.8,504.9 L1124.7,510.5 L1117.7,514.8 L1109.2,519.0 L1100.7,521.8 L1097.9,527.5 L1095.1,531.7 L1089.5,535.9 L1081.0,540.0Z M1121.9,540.0 L1123.3,531.7 L1131.8,523.2 L1140.2,519.0 L1148.7,514.8 L1154.3,516.2 L1155.8,520.4 L1151.5,524.6 L1148.7,530.3 L1147.3,540.0Z M1155.8,527.5 L1160.3,524.6 L1160.3,540.0 L1155.8,540.0Z M1028.8,540.0 L1033.0,535.9 L1041.5,531.7 L1044.3,535.9 L1044.3,540.0Z M1047.4,499.2 L1052.8,496.4 L1057.7,497.8 L1056.3,502.1 L1050.7,504.2 L1047.4,502.8Z M1004.8,531.7 L1008.3,531.4 L1008.3,535.9 L1004.8,535.9Z M1163.6,440.0 L1190.5,440.0 L1191.9,445.6 L1186.2,447.1 L1179.2,445.6 L1172.1,446.3 L1166.5,445.6Z M1196.1,442.8 L1200.3,440.7 L1201.7,445.6 L1198.9,450.6 L1196.1,448.5Z M1204.6,440.0 L1215.8,440.0 L1214.4,445.6 L1211.6,448.5 L1207.4,447.1Z M1217.3,440.0 L1316.3,440.0 L1316.3,540.0 L1158.0,540.0 L1158.0,521.8 L1163.6,513.4 L1169.3,510.5 L1176.3,512.0 L1183.4,514.8 L1187.6,519.0 L1190.5,513.4 L1186.2,507.7 L1183.4,500.7 L1186.2,496.4 L1193.3,495.0 L1200.3,492.2 L1203.1,486.6 L1208.8,484.4 L1217.3,485.1 L1225.7,480.9 L1231.4,482.3 L1234.2,476.7 L1231.4,471.0 L1228.5,465.4 L1225.7,459.8 L1224.3,452.7 L1221.5,447.1 L1218.7,442.8Z M1158.0,461.2 L1160.8,462.6 L1160.8,478.1 L1158.0,478.1Z M1002.0,535.0 L1160.3,535.0 L1160.3,634.0 L1002.0,634.0Z M1158.0,535.0 L1317.2,535.0 L1317.2,634.0 L1158.0,634.0Z M108.3,108.5 L111.2,109.9 L118.2,119.8 L122.4,125.4 L123.9,133.9 L129.5,145.1 L135.1,152.2 L140.8,156.4 L149.3,160.7 L157.7,160.7 L163.4,155.0 L170.4,150.8 L171.8,145.1 L180.3,146.6 L187.3,145.1 L190.2,152.2 L194.4,159.3 L195.8,164.9 L191.6,170.5 L187.3,167.7 L184.5,173.4 L188.8,179.0 L194.4,184.7 L197.2,193.1 L200.0,201.6 L202.9,210.0 L205.7,218.5 L211.3,232.6 L214.2,238.3 L208.5,243.9 L204.3,245.3 L201.5,238.3 L198.6,229.8 L194.4,221.3 L191.6,215.7 L185.9,211.5 L180.3,210.0 L174.7,207.2 L169.0,204.4 L163.4,201.6 L154.9,198.8 L146.4,197.3 L138.0,195.9 L129.5,193.1 L123.9,190.3 L119.6,184.7 L116.8,176.2 L112.6,164.9 L109.8,156.4 L108.3,148.0 L106.9,136.7 L101.3,128.2 L99.9,125.4 L104.1,114.1Z M214.2,235.4 L222.6,234.0 L228.3,241.1 L231.1,249.5 L233.9,258.0 L239.5,266.5 L242.4,272.1 L236.7,276.4 L232.5,270.7 L228.3,263.7 L222.6,258.0 L217.0,252.4 L212.7,243.9Z M108.3,290.5 L112.0,289.9 L112.6,294.1 L108.6,294.7Z M703.3,391.9 L717.2,388.9 L718.2,399.8 L717.2,407.7 L709.3,413.6 L705.3,419.5 L701.4,427.4 L695.4,433.3 L687.5,438.3 L689.5,439.3 L699.4,437.3 L705.3,435.3 L709.3,439.3 L709.3,445.2 L701.4,449.1 L697.4,453.1 L699.4,457.0 L707.3,458.0 L710.3,463.0 L711.2,468.9 L711.2,474.8 L718.2,474.8 L718.2,482.7 L713.2,490.6 L707.3,494.6 L699.4,498.5 L689.5,502.5 L681.6,506.4 L675.7,510.4 L669.8,516.3 L671.7,510.4 L673.7,502.5 L673.7,490.6 L671.7,478.8 L669.8,464.9 L667.8,455.1 L663.8,445.2 L659.9,439.3 L659.9,431.4 L665.8,427.4 L671.7,421.5 L677.7,415.6 L679.6,409.6 L689.5,403.7 L697.4,399.8Z M725.1,403.7 L733.0,400.7 L740.9,401.7 L746.8,409.6 L748.8,419.5 L747.8,427.4 L754.7,429.4 L756.7,433.3 L754.7,439.3 L752.7,447.2 L744.8,455.1 L738.9,463.0 L729.0,470.9 L721.1,472.8 L720.1,464.9 L723.1,457.0 L726.1,449.1 L729.0,441.2 L728.0,433.3 L725.1,425.4 L724.1,415.6Z M742.8,380.0 L758.7,380.0 L759.6,389.9 L756.7,395.8 L748.8,397.8 L743.8,391.9Z M717.2,380.0 L727.0,380.0 L726.1,383.6 L719.1,384.0Z M776.4,385.9 L780.0,384.9 L780.0,397.8 L776.8,396.8Z M795.0,174.8 L804.3,175.6 L806.6,181.0 L803.5,186.4 L807.4,191.9 L815.1,189.5 L822.9,191.1 L830.6,196.5 L836.8,202.7 L839.9,210.5 L844.6,208.9 L850.0,204.3 L858.1,203.6 L860.5,214.0 L870.9,219.8 L868.6,227.7 L858.1,230.5 L852.6,238.4 L850.0,232.2 L846.1,232.2 L839.9,229.1 L833.7,230.6 L827.5,235.3 L826.0,239.9 L822.9,243.0 L818.2,239.9 L815.1,235.3 L812.0,227.5 L808.9,230.6 L804.3,236.8 L799.6,239.9 L796.5,236.8 L793.4,230.6 L791.9,222.9 L791.9,215.1 L790.3,210.5 L783.3,212.0 L781.0,208.9 L784.1,202.7 L787.2,196.5 L790.3,187.2 L793.4,181.0Z M781.0,157.8 L784.9,156.2 L788.0,159.3 L786.4,162.4 L782.6,162.1Z M785.3,166.3 L788.8,164.7 L791.9,168.6 L791.1,174.0 L787.2,174.8 L785.3,170.9Z M780.2,185.7 L784.1,181.0 L788.0,182.6 L788.8,187.2 L784.9,190.3 L781.0,189.5Z M761.6,199.6 L764.7,197.3 L767.8,199.6 L767.1,204.3 L763.2,205.0Z M769.4,208.9 L773.3,205.0 L777.9,206.6 L779.5,212.0 L777.1,216.7 L773.3,219.0 L770.2,215.9Z M750.0,229.1 L754.7,224.4 L760.9,222.9 L764.7,224.4 L764.0,230.6 L759.3,235.3 L753.1,236.0 L750.0,233.7Z M773.3,229.1 L777.1,226.0 L781.0,228.3 L780.2,232.9 L775.6,234.5Z M807.4,150.0 L818.2,150.0 L817.4,153.9 L812.8,155.4 L808.1,153.1Z M790.3,244.6 L801.2,243.0 L812.0,245.3 L824.4,249.2 L827.5,259.9 L790.3,259.9Z M777.9,250.8 L785.7,249.2 L786.4,259.9 L777.9,259.9Z" fill="#068eea"/>
<path d="M885.2,121.6 L893.2,118.9 L898.6,125.6 L895.9,131.0 L887.8,128.3Z M60.7,298.2 L70.1,292.9 L74.1,290.2 L76.8,296.9 L78.1,307.6 L75.4,314.3 L72.8,310.3 L68.7,303.6 L62.0,300.9Z M276.5,376.0 L281.8,374.6 L283.2,381.3 L279.1,384.0 L276.5,381.3Z M785.2,319.7 L793.2,318.3 L798.6,327.7 L799.9,338.4 L795.9,343.8 L787.8,341.1 L783.8,330.4Z M809.3,305.7 L814.7,304.9 L817.3,310.3 L813.3,313.0 L809.3,311.1Z M822.7,317.5 L829.4,317.0 L832.1,321.0 L825.4,322.9Z M775.8,384.0 L782.5,382.7 L787.8,392.1 L786.5,400.1 L778.5,398.8Z M1196.3,405.5 L1201.7,399.6 L1209.7,401.4 L1211.1,410.8 L1203.0,414.0 L1197.1,412.2Z M1224.5,421.5 L1232.5,416.7 L1237.9,426.9 L1235.2,440.0 L1224.5,440.0Z M1253.9,425.6 L1259.3,424.2 L1261.4,432.3 L1255.3,434.4Z M806.4,605.5 L813.2,594.6 L820.1,598.7 L822.8,605.5Z M826.1,589.1 L831.0,586.4 L834.3,593.2 L830.5,598.7 L826.1,596.0Z M839.2,550.8 L843.3,548.9 L847.4,552.2 L846.1,557.1 L840.6,556.3Z M836.5,571.3 L842.0,563.1 L847.4,565.9 L847.4,574.1 L839.2,576.8Z M748.9,634.0 L754.4,623.3 L759.9,628.8 L758.5,634.0Z M755.8,561.8 L761.2,556.3 L765.3,560.4 L768.1,564.5 L764.0,568.6 L757.7,567.2Z M973.3,590.5 L981.5,587.7 L985.6,593.2 L978.7,598.7 L973.3,597.3Z M1072.5,524.6 L1081.0,519.0 L1088.0,510.5 L1095.1,507.7 L1096.5,511.9 L1092.3,519.0 L1088.0,523.2 L1081.0,527.5 L1075.4,528.9 L1073.2,527.5Z M1248.3,471.0 L1253.9,467.5 L1262.4,467.5 L1266.6,472.5 L1269.5,478.1 L1265.2,486.6 L1259.6,489.4 L1255.4,495.0 L1252.5,493.6 L1249.7,486.6 L1248.3,479.5Z M1276.5,479.5 L1282.2,478.8 L1286.4,483.7 L1288.5,493.6 L1289.9,502.1 L1286.4,497.8 L1280.8,496.4 L1279.3,489.4 L1275.1,486.6Z M1292.0,486.6 L1299.1,489.4 L1307.6,491.5 L1316.3,488.0 L1316.3,513.4 L1310.4,513.4 L1307.6,519.0 L1306.1,527.5 L1303.3,540.0 L1293.4,540.0 L1293.4,524.7 L1294.9,513.4 L1293.4,503.5 L1292.0,496.4Z M1270.9,456.9 L1277.9,452.7 L1283.6,452.0 L1282.2,455.5 L1276.5,459.8 L1272.3,461.2Z M1220.1,440.0 L1252.5,440.0 L1251.1,448.5 L1248.3,454.1 L1241.2,455.5 L1234.2,452.7 L1230.0,451.3 L1225.7,448.5 L1222.9,444.2Z M1242.7,512.0 L1248.3,510.5 L1253.9,513.4 L1255.4,519.0 L1251.1,523.2 L1245.5,521.8 L1242.7,517.6Z M1256.8,513.4 L1262.4,512.0 L1266.6,516.2 L1265.2,521.8 L1261.0,524.7 L1256.8,521.8Z M1255.4,528.9 L1262.4,526.8 L1268.1,530.3 L1269.5,540.0 L1255.4,540.0Z M1169.3,540.0 L1172.1,531.7 L1177.8,528.9 L1182.0,534.5 L1181.3,540.0Z M1228.5,493.6 L1232.8,490.8 L1237.0,493.6 L1237.0,499.3 L1232.8,500.7 L1229.3,498.6Z M1002.0,535.0 L1029.9,535.0 L1025.7,540.6 L1020.1,543.4 L1017.4,549.0 L1013.2,554.5 L1007.6,561.5 L1002.0,568.5Z M1046.7,535.0 L1071.8,535.0 L1071.8,540.6 L1067.6,543.4 L1063.4,549.0 L1057.8,551.7 L1052.2,550.4 L1048.1,546.2 L1046.0,540.6Z M1092.7,535.0 L1120.6,535.0 L1120.6,543.4 L1124.8,553.1 L1122.0,560.1 L1119.2,568.5 L1117.8,569.9 L1113.7,565.7 L1105.3,564.3 L1098.3,567.1 L1099.7,574.1 L1105.3,576.9 L1102.5,579.7 L1096.9,579.7 L1091.3,576.9 L1085.7,572.7 L1080.2,574.1 L1076.0,571.3 L1073.2,565.7 L1071.8,557.3 L1073.2,551.7 L1078.8,546.2 L1085.7,543.4 L1089.9,539.2Z M1145.8,535.0 L1155.5,535.0 L1155.5,543.4 L1151.3,549.0 L1143.0,550.4 L1136.0,554.5 L1131.1,561.5 L1131.1,566.4 L1136.7,567.1 L1140.2,562.9 L1145.8,565.0 L1152.7,563.6 L1160.3,560.8 L1160.3,551.7 L1155.5,550.4 L1154.8,544.8Z M1113.7,574.1 L1117.8,569.9 L1123.4,571.3 L1130.4,569.9 L1136.0,571.3 L1140.2,576.9 L1141.6,582.5 L1147.2,588.0 L1154.1,590.8 L1160.3,590.8 L1160.3,634.0 L1124.8,634.0 L1123.4,618.7 L1123.4,607.6 L1123.4,602.0 L1126.2,595.0 L1131.8,588.0 L1136.0,583.8 L1130.4,582.5 L1124.8,583.8 L1120.6,586.6 L1116.4,585.2 L1113.7,581.1Z M1106.7,589.4 L1113.7,588.0 L1119.2,589.4 L1118.5,596.4 L1113.7,602.0 L1109.5,599.2 L1107.4,593.6Z M1050.2,585.2 L1057.8,579.7 L1064.8,576.9 L1071.8,577.6 L1077.4,581.1 L1073.2,583.8 L1066.2,586.6 L1059.2,590.8 L1052.2,592.9 L1050.2,590.8Z M1022.9,592.2 L1029.2,584.5 L1035.5,588.0 L1041.1,593.6 L1046.7,599.2 L1048.1,604.8 L1045.3,607.6 L1043.9,618.7 L1038.3,618.7 L1035.5,607.6 L1031.3,603.4 L1025.7,597.8Z M1043.9,558.7 L1046.7,558.0 L1049.5,560.8 L1047.4,564.3 L1044.6,563.6Z M1016.0,613.2 L1020.1,611.8 L1022.2,617.3 L1017.4,618.7Z M1082.9,613.2 L1091.3,610.4 L1096.9,618.7 L1096.9,634.0 L1082.9,634.0Z M1158.0,535.0 L1178.9,535.0 L1180.3,540.6 L1174.8,546.2 L1169.2,550.4 L1165.0,554.5 L1160.8,560.1 L1158.0,561.5Z M1255.7,535.0 L1266.9,535.0 L1272.5,537.8 L1280.9,539.2 L1286.4,542.0 L1292.0,546.2 L1292.0,535.0 L1317.2,535.0 L1317.2,634.0 L1177.5,634.0 L1178.9,618.8 L1177.5,609.0 L1173.4,604.8 L1169.2,602.0 L1163.6,599.2 L1158.0,599.2 L1158.0,586.7 L1160.8,581.1 L1166.4,575.5 L1172.0,571.3 L1172.0,562.9 L1174.8,558.7 L1183.1,558.7 L1192.9,561.5 L1206.9,560.1 L1219.4,555.9 L1230.6,550.4 L1236.2,543.4 L1247.4,540.6Z M156.3,163.5 L162.0,160.7 L166.2,167.7 L167.6,179.0 L163.4,183.2 L157.7,176.2 L155.5,170.5Z M184.5,164.9 L188.8,163.5 L192.1,170.5 L190.2,176.2 L185.9,173.4Z M791.1,208.9 L794.2,206.6 L796.5,210.5 L793.4,212.8Z M940.0,629.3 L944.7,623.0 L949.4,619.9 L955.7,613.6 L963.6,610.4 L971.4,608.1 L979.3,605.7 L984.0,606.5 L986.4,610.4 L984.0,615.1 L979.3,619.1 L974.6,621.4 L973.8,635.6 L935.3,635.6 L935.3,630.9Z" fill="#08ee30"/>
<path d="M1303.3,499.3 L1307.6,497.8 L1309.7,502.1 L1307.6,506.3 L1304.0,504.9Z M1105.3,546.2 L1108.1,546.2 L1108.4,550.4 L1105.6,550.4Z" fill="#068eea"/>
<path d="M1206.9,572.7 L1211.1,572.7 L1216.6,574.8 L1225.0,575.5 L1236.2,576.9 L1244.6,578.3 L1252.9,579.7 L1264.1,578.3 L1275.3,576.9 L1286.4,575.5 L1297.6,573.4 L1306.0,571.3 L1317.2,569.9 L1317.2,634.0 L1213.8,634.0 L1213.8,618.8 L1213.8,604.8 L1213.1,590.8 L1212.5,579.7 L1208.3,575.5Z" fill="#8aec0a"/>
<path d="M1130.1,440.0 L1189.9,440.0 L1189.9,539.9 L1130.1,539.9Z" fill="#08ee30"/>
<path d="M1130.1,462.5 L1131.9,459.5 L1139.8,449.6 L1147.7,441.7 L1151.6,438.8 L1156.5,439.8 L1155.6,449.6 L1149.6,455.6 L1141.7,459.5 L1137.8,469.4 L1143.7,477.3 L1149.6,471.4 L1155.6,465.4 L1159.5,461.5 L1161.5,471.4 L1159.5,479.3 L1151.6,487.2 L1143.7,495.1 L1135.8,503.0 L1130.1,506.9Z M1165.4,440.0 L1167.4,443.7 L1177.3,445.7 L1185.2,447.7 L1189.9,445.7 L1189.9,440.0Z M1183.2,499.0 L1189.9,496.0 L1189.9,539.9 L1179.3,539.9 L1177.3,538.5 L1173.3,530.6 L1167.4,534.6 L1159.5,536.5 L1157.5,528.6 L1161.5,518.8 L1167.4,510.9 L1175.3,512.8 L1185.2,518.8 L1189.1,516.8 L1187.2,508.9 L1183.2,503.0Z M1130.1,526.7 L1135.8,518.8 L1145.7,514.8 L1153.6,516.8 L1155.6,522.7 L1149.6,530.6 L1145.7,538.5 L1143.7,539.9 L1130.1,539.9Z" fill="#068eea"/>
<path d="M498.1,212.8 L504.8,219.5 L515.6,222.1 L523.6,224.8 L534.3,227.5 L539.7,230.2 L542.4,224.8 L541.0,216.8 L542.4,206.1 L543.7,192.7 L550.4,190.0 L561.1,186.0 L571.8,181.9 L582.6,179.3 L589.3,173.9 L596.0,164.5 L604.0,155.1 L609.4,144.4 L609.4,136.4 L617.4,133.7 L622.8,144.4 L628.1,149.8 L633.5,141.7 L630.8,131.0 L636.2,125.6 L641.5,128.3 L644.2,140.4 L642.9,128.3 L644.2,120.3 L646.9,117.6 L649.6,110.9 L646.9,106.9 L654.9,98.8 L660.3,93.5 L665.7,88.1 L671.0,80.1 L676.4,72.0 L677.7,64.0 M681.7,64.0 L684.4,69.4 L691.1,70.7 L695.1,76.1 L699.2,80.1 L697.8,88.1 L701.8,93.5 L708.5,93.5 L713.9,98.8 L724.6,104.2 L732.7,109.6 L740.7,110.9 L742.0,116.3 L735.3,120.3 L721.9,123.0 L716.6,128.3 L720.6,133.7 L727.3,136.4 L724.6,140.4 L716.6,143.1 L705.9,144.4 L700.5,143.1 L699.2,147.1 M260.7,72.0 L262.1,80.1 L263.4,93.5 L264.7,106.9 L267.4,117.6 L270.1,128.3 L271.4,141.7 L274.1,152.5 L279.5,163.2 L284.9,173.9 L288.9,184.6 L295.6,192.7 L303.6,200.7 L314.3,208.8 L325.1,216.8 L335.8,224.9 L343.8,232.9 L349.2,235.6 L355.9,232.9 L359.9,227.5 L362.6,224.9 L361.3,214.1 L357.2,203.4 L353.2,192.7 L349.2,182.0 L345.2,171.2 L342.5,160.5 L342.5,144.4 L342.5,131.0 L338.5,117.6 L333.1,109.6 L327.7,98.9 L319.7,90.8 L313.0,86.8 L307.6,88.1 L303.6,96.2 L299.6,100.2 L292.9,98.9 L286.2,96.2 L282.2,88.1 L278.2,80.1 L271.4,76.1 L264.7,73.4 L260.7,72.0 M266.1,182.0 L268.8,181.4 L269.3,187.3 L266.6,187.9Z M1292.3,351.3 L1302.2,354.5 L1316.1,360.4 M883.0,544.0 L893.9,535.8 L904.9,531.7 L918.6,528.9 L932.2,526.2 L944.5,524.8 L945.9,527.6 L937.7,533.0 L926.8,538.5 L915.8,544.0 L904.9,548.1 L896.7,552.2 L889.8,554.9 M863.8,553.5 L872.0,549.4 L880.3,545.3 M900.8,522.1 L903.5,518.0 L904.3,520.7 M1292.0,480.9 L1296.3,480.2 L1301.9,480.9 L1307.6,480.9 L1313.2,480.2 L1316.3,480.2 M1292.0,546.2 L1296.2,549.0 L1300.4,547.6 L1306.0,549.0 L1317.2,549.0 M322.8,210.0 L325.4,215.1 L331.7,218.9 L338.1,222.7 L341.9,227.8 L344.4,232.8 L348.2,235.4 L352.0,231.6 L355.8,229.0 L358.4,224.0 L357.1,222.7 L360.9,220.2 L362.2,225.2 L363.5,231.6 L359.6,232.8 L353.3,234.1" fill="none" stroke="#a4a4a4" stroke-width="1.1" stroke-linejoin="round"/>
<path d="M498.1,211.4 L491.4,219.5 L486.1,230.2 L482.1,240.9 L479.4,254.0 M498.1,212.8 L502.2,224.8 L510.2,238.2 L523.6,246.3 L539.7,241.4 L553.1,235.5 L561.1,227.5 L571.8,225.6 L582.6,226.7 L587.9,230.7 L598.7,232.9 L609.4,231.5 L616.1,228.8 L624.1,228.8 L628.1,232.9 L630.8,224.8 L629.5,214.1 L633.5,203.4 L637.5,196.7 L639.4,188.6 L642.1,181.9 L646.9,171.2 L649.6,163.2 L650.1,152.4 L653.6,144.4 L657.6,141.7 L673.7,141.7 L684.4,142.3 L692.5,142.5 L699.2,144.4 M699.2,144.4 L701.0,152.4 L703.2,165.8 L700.5,176.6 L703.2,187.3 L708.5,198.0 L711.2,203.4 L705.9,208.7 L708.5,214.1 L711.2,224.8 L719.3,230.2 L727.3,235.5 L734.0,240.9 L732.7,248.9 L730.0,254.0 M625.5,230.2 L620.1,235.5 L612.1,240.9 L608.0,251.6 L607.2,254.0 M668.3,203.4 L673.7,195.3 L684.4,194.0 L695.1,195.3 L703.2,198.0 L709.9,203.4 M641.5,200.7 L632.2,206.1 L628.1,214.1 L627.6,224.8 M696.5,149.8 L700.5,148.4 L704.5,151.1 L703.2,155.1 L697.8,154.6Z M684.4,163.2 L692.5,161.8 L697.8,165.8 L695.1,171.2 L688.4,169.9Z M693.8,169.9 L700.5,168.5 L703.2,173.9 L699.2,177.9 L694.6,175.2Z M696.5,179.3 L701.0,178.7 L702.6,186.0 L697.8,186.8Z M700.5,208.7 L707.2,207.4 L708.5,211.4 L701.8,212.8Z M475.4,181.9 L479.4,183.3 L480.7,187.3 L476.7,187.8Z M480.7,194.0 L485.5,194.8 L484.7,198.0 L481.3,197.5Z M764.8,254.0 L770.2,246.3 L778.2,240.9 L786.0,232.9 M930.7,137.7 L933.9,136.4 L935.0,144.4 L932.9,149.8 L933.9,157.8 L931.3,160.0 L929.4,152.4 L931.3,144.4Z M898.0,160.5 L901.3,159.1 L903.9,167.2 L901.8,171.2 L898.6,168.5Z M786.0,233.4 L796.7,235.5 L807.4,240.9 L818.2,242.2 L826.2,244.9 L839.6,246.8 L853.0,247.3 L866.4,243.6 L874.4,238.2 L879.8,230.7 L885.2,224.8 L889.2,219.5 L893.2,224.8 L891.9,232.9 L885.7,240.9 L880.3,248.9 L877.7,254.0 M786.0,251.6 L794.0,247.6 L802.1,244.1 L812.8,243.0 M238.9,267.4 L247.0,274.1 L252.3,282.2 L260.4,295.6 L265.7,306.3 L271.1,314.3 L276.5,325.0 L281.8,335.8 L284.5,343.8 L289.9,351.8 L295.2,359.9 L303.3,370.6 L311.3,381.3 L319.3,389.4 L327.4,397.4 L335.4,405.5 L343.5,410.8 L348.8,417.5 L354.2,424.2 L359.5,432.3 L363.6,440.0 M252.3,250.0 L253.7,255.4 L260.4,252.7 L261.7,260.7 L265.7,263.4 L273.8,266.1 L276.5,271.4 L275.1,279.5 L281.8,287.5 L289.9,292.9 L297.9,300.9 L300.6,306.3 L295.2,319.7 L284.5,322.4 L283.2,330.4 L284.5,342.5 L292.5,346.5 L300.6,351.8 L308.6,354.5 L311.3,359.9 L322.0,365.3 L327.4,373.3 L330.1,378.7 L324.7,381.3 L322.0,389.4 L330.1,397.4 L338.1,402.8 L343.5,408.1 L348.8,413.5 L351.5,418.9 L362.2,418.9 L366.2,410.8 L370.0,402.8 M297.9,300.9 L305.9,299.6 L314.0,303.6 L322.0,306.3 L330.1,298.2 L338.1,294.2 L343.5,292.9 L351.5,290.2 L356.9,292.9 L362.2,299.6 L367.6,306.3 L370.0,311.6 M338.1,294.2 L348.8,282.2 L350.2,271.4 L346.1,263.4 L338.1,260.7 L332.7,255.4 L330.1,250.0 M311.3,354.5 L316.7,351.8 L327.4,343.8 L338.1,339.8 L346.1,335.8 L354.2,330.4 L362.2,326.4 L370.0,325.0 M236.3,250.0 L241.6,255.4 L247.0,258.0 L252.3,260.7 M221.5,300.9 L228.2,300.4 L230.9,309.0 L234.9,319.7 L237.6,329.1 L232.2,327.7 L226.9,322.4 L221.5,311.6Z M244.3,333.1 L248.3,334.4 L251.0,342.5 L247.0,343.8 L243.8,338.4Z M255.0,349.2 L259.0,349.2 L265.7,359.9 L268.4,370.6 L264.4,372.0 L259.0,362.6 L255.0,355.9Z M212.1,274.1 L216.2,272.8 L218.8,279.5 L217.5,290.2 L214.8,287.5 L213.5,279.5Z M218.8,267.4 L225.5,267.4 L226.9,270.9 L219.6,270.6Z M196.6,250.0 L201.9,250.0 L202.8,255.4 L198.2,255.9Z M308.6,432.3 L314.0,431.7 L316.1,437.6 L310.0,437.6Z M364.9,440.0 L366.2,416.2 L370.0,410.8 M130.4,101.5 L134.4,105.5 L137.1,113.6 L142.4,123.0 L149.1,133.7 L157.2,144.4 L163.9,151.1 L171.9,157.8 L180.0,165.8 L185.3,173.9 L190.7,181.9 L196.1,190.0 L200.1,198.0 L204.1,203.4 L208.1,208.7 L214.8,214.1 L221.5,219.5 L225.5,227.5 L228.2,238.2 L230.4,254.0 M134.4,104.2 L142.4,104.2 L150.5,108.2 L158.5,113.6 L166.6,114.9 L176.0,114.9 L185.3,117.6 L192.0,116.3 L198.7,124.3 L205.4,135.0 L209.5,139.0 L212.1,144.4 L213.5,148.4 L220.2,152.4 L228.2,157.8 L238.9,165.8 L247.0,173.9 L253.7,183.3 L259.0,192.7 L264.4,200.7 L271.1,206.1 L279.1,204.7 L287.2,210.1 L292.5,216.8 L297.9,219.5 L303.3,224.8 L311.3,227.5 L319.3,235.5 L324.7,240.9 L332.7,246.3 L340.8,251.6 L343.5,254.0 M209.5,144.4 L204.1,152.4 L201.4,160.5 L202.8,171.2 L205.4,181.9 L208.1,192.7 L209.5,203.4 L206.8,206.1 M263.1,198.0 L261.7,208.7 L263.1,219.5 L260.4,230.2 L257.7,240.9 L255.0,248.9 L252.3,254.0 M147.8,187.3 L153.2,186.0 L161.2,192.7 L166.6,198.0 L166.6,202.0 L161.2,202.0 L153.2,195.3 L147.8,191.3Z M182.7,230.2 L188.0,227.5 L193.4,235.5 L196.1,246.3 L193.4,248.9 L189.4,243.6 L185.3,235.5Z M129.6,100.2 L131.7,98.3 L133.3,101.0 L131.2,102.1Z M134.4,96.2 L137.1,95.6 L138.2,98.3 L135.5,98.8Z M289.9,214.1 L295.2,210.1 L300.0,214.1 L297.9,220.8 L292.0,220.8Z M305.9,224.8 L311.3,224.3 L316.7,230.2 L312.6,234.2 L307.3,231.5Z M370.0,341.1 L378.0,342.5 L386.1,343.8 L394.1,345.1 L399.5,347.8 L404.8,350.5 L412.9,351.8 L420.9,349.2 L427.6,350.5 L426.3,357.2 L423.6,362.6 L420.9,365.3 M383.4,330.4 L391.4,321.0 L399.5,319.7 L407.5,321.0 L410.2,330.4 L412.9,341.1 L418.2,346.5 L423.6,350.5 M447.7,351.8 L455.8,349.2 L462.5,351.8 L465.1,357.2 L463.8,365.3 L461.1,369.3 L455.8,367.9 L450.4,362.6 L447.7,357.2Z M402.2,351.8 L404.8,362.6 L407.5,370.6 L404.8,378.7 L403.5,389.4 L403.5,410.8 L402.2,440.0 M370.0,400.1 L378.0,394.7 L386.1,389.4 L391.4,386.7 L396.8,390.7 L402.2,396.1 M479.9,250.0 L482.6,260.7 L485.3,271.4 L487.9,282.2 L493.3,290.2 L496.0,298.2 L501.3,303.6 L506.7,309.0 L509.4,317.0 L508.0,325.0 L509.4,333.1 L512.1,341.1 L512.1,351.8 L514.7,359.9 L520.1,359.9 L525.5,362.6 L530.8,359.9 L536.2,357.2 L541.5,359.9 L546.9,358.5 L552.3,359.9 L554.9,367.9 L554.9,378.7 L563.0,376.0 L573.7,373.3 L584.4,365.3 L592.5,367.9 L597.8,373.3 L605.9,374.6 L613.9,376.0 L619.3,376.0 L624.6,378.7 M530.8,322.4 L533.5,314.3 L538.9,309.0 L546.9,303.6 L557.6,298.2 L568.3,292.9 L581.7,290.2 L589.8,287.5 L592.5,276.8 L592.5,266.1 L597.8,260.7 L605.9,255.4 L611.2,252.7 L621.9,255.4 L630.0,252.7 L635.3,250.0 M530.8,322.4 L533.5,333.1 L536.2,346.5 L537.5,351.8 L530.8,359.9 M621.9,376.0 L619.3,367.9 L624.6,357.2 L632.7,346.5 L640.7,338.4 L643.4,327.7 L646.1,317.0 L651.4,311.6 L648.7,306.3 L643.4,298.2 L640.7,290.2 L638.0,282.2 L635.3,274.1 L630.0,268.8 L627.3,263.4 L635.3,258.0 L638.0,250.0 M686.0,303.6 L678.2,306.3 L675.5,317.0 L670.2,325.0 L667.5,335.8 L670.2,343.8 L664.8,351.8 L664.8,362.6 L662.1,370.6 L664.8,381.3 L664.8,389.4 L662.1,397.4 M627.3,397.4 L638.0,392.1 L651.4,386.7 L659.5,381.3 L664.8,378.7 M648.7,317.0 L651.4,330.4 L654.1,343.8 L662.1,345.1 L672.9,343.8 M370.0,268.8 L374.0,274.1 L378.0,279.5 L381.3,282.2 M487.9,290.2 L496.0,292.9 L498.7,296.9 L494.6,299.6 M477.2,321.0 L481.2,319.7 L482.6,322.9 L478.5,323.7Z M879.0,250.0 L873.6,255.4 L860.2,260.7 L846.8,262.1 L836.1,259.4 L825.4,258.0 L809.3,258.0 L798.6,256.7 L790.5,255.4 L785.2,256.7 L774.4,258.0 L766.4,260.7 L763.7,268.8 L762.4,282.2 L763.7,292.9 L769.1,300.9 L774.4,306.3 L777.1,311.6 L779.8,314.3 L787.8,313.0 L793.2,309.0 L798.6,303.6 L803.9,299.6 L812.0,298.2 L820.0,296.9 L828.1,295.6 L836.1,292.9 L844.1,290.2 L848.2,292.9 L848.2,300.9 L842.8,303.6 L836.1,302.3 L830.7,300.9 L828.1,303.6 L825.4,309.0 L820.0,314.3 L814.7,318.3 L809.3,322.4 L803.9,326.4 L798.6,330.4 L795.9,330.4 M795.9,330.4 L798.6,335.8 L803.9,341.1 L809.3,346.5 L813.3,354.5 L817.3,359.9 L820.0,365.3 L824.0,367.9 M785.2,354.5 L793.2,357.2 L801.3,359.9 L809.3,362.6 L817.3,365.3 L818.7,373.3 L820.0,378.7 L825.4,384.0 L830.7,389.4 L833.4,394.7 L836.1,400.1 L833.4,405.5 L830.7,410.8 L828.1,421.5 L825.4,429.6 L822.7,437.6 M787.8,354.5 L785.2,362.6 L782.5,373.3 L787.8,381.3 L795.9,389.4 L798.6,394.7 L801.3,402.8 L803.9,410.8 L809.3,418.9 L812.0,426.9 L813.3,440.0 M758.4,250.0 L757.0,260.7 L755.7,274.1 L757.0,284.8 L757.0,298.2 L753.0,300.9 L747.6,303.6 L745.0,311.6 L743.6,319.7 L740.9,327.7 L736.9,335.8 L734.2,343.8 L732.9,351.8 L730.2,359.9 L731.6,370.6 L732.9,378.7 L736.9,378.7 L742.3,376.0 L746.3,370.6 L749.0,367.9 L750.3,378.7 L751.7,394.7 L750.3,410.8 L749.0,424.2 L750.3,440.0 M774.4,351.8 L769.1,357.2 L766.4,365.3 L767.7,378.7 L769.1,392.1 L770.4,405.5 L769.1,416.2 L770.4,426.9 L771.8,440.0 M755.7,333.1 L763.7,330.4 L771.8,331.7 L779.8,338.4 L785.2,343.8 L787.8,351.8 M820.0,408.1 L825.4,406.8 L828.1,410.8 L825.4,416.2 L821.4,414.8Z M830.7,394.7 L834.8,393.4 L841.5,396.1 L842.8,400.1 L838.8,401.4 L832.1,398.8Z M832.1,404.1 L836.1,402.8 L838.8,410.8 L837.4,424.2 L833.4,434.9 L830.7,432.3 L832.1,421.5Z M833.4,309.0 L838.8,307.6 L841.5,314.3 L838.8,319.7 L833.4,317.0Z M844.1,311.6 L850.8,310.3 L852.2,322.4 L846.8,323.7 L845.5,317.0Z M803.9,284.8 L812.0,280.8 L820.0,279.5 L821.4,283.5 L814.7,286.2 L806.6,288.9Z M913.8,367.9 L921.9,365.3 L932.6,365.8 L939.3,369.3 L943.3,373.3 L942.8,381.3 L935.3,385.4 L929.9,388.0 L921.9,385.4 L916.5,381.3 L913.3,374.6Z M948.7,314.3 L956.7,313.0 L964.7,318.3 L967.4,322.4 L962.1,323.7 L954.0,323.7 L950.0,321.0Z M959.4,367.9 L964.7,362.6 L970.1,359.9 L980.8,360.4 L988.9,358.5 L994.2,357.2 L1002.0,356.7 M1002.0,376.0 L994.2,373.3 L986.2,373.3 L980.8,376.0 L975.5,378.7 L970.1,381.3 L964.7,385.4 L962.1,381.3 L959.4,376.0 L959.4,367.9 M870.9,323.7 L889.7,322.9 L908.5,326.4 L924.5,327.7 L908.5,329.3 L889.7,330.4 L870.9,331.7Z M909.0,331.7 L912.5,332.6 L914.4,346.5 L911.1,346.0Z M696.7,250.0 L695.4,263.4 L694.0,276.8 L696.7,284.8 L694.0,292.9 L691.4,298.2 L686.0,303.6 M692.7,284.8 L698.1,283.5 L699.4,290.2 L696.7,298.2 L691.9,296.9Z M838.8,327.7 L841.5,327.2 L842.0,330.4 L839.3,330.9Z M846.8,330.4 L850.8,329.9 L851.6,334.4 L847.4,335.2Z M853.5,330.4 L857.5,329.1 L858.9,335.8 L854.3,336.3Z M861.6,327.7 L864.2,327.7 L864.2,330.9 L861.6,330.9Z M817.3,367.9 L820.0,367.9 L821.4,376.0 L817.9,375.4Z M809.3,424.2 L813.3,423.7 L814.1,434.9 L809.8,435.5Z M1044.9,296.9 L1055.6,292.9 L1063.6,287.5 L1071.7,283.5 L1082.4,283.5 L1093.1,286.2 L1103.8,291.5 L1111.9,294.2 L1117.3,298.2 L1119.9,309.0 L1121.3,319.7 L1118.6,327.7 L1119.9,335.8 L1125.3,343.8 L1128.0,351.8 L1133.3,357.2 L1136.0,365.3 L1138.7,373.3 L1141.4,381.3 L1142.7,389.4 L1140.0,394.7 L1133.3,396.1 L1130.7,400.1 L1136.0,402.8 L1144.1,405.5 L1152.1,408.1 L1162.8,410.8 L1173.5,416.2 L1184.3,421.5 L1195.0,426.9 L1205.7,432.3 L1213.7,437.6 L1216.4,440.0 M1036.8,311.6 L1044.9,314.3 L1055.6,317.0 L1063.6,322.4 L1066.3,330.4 L1071.7,338.4 L1082.4,339.8 L1093.1,338.4 L1103.8,337.1 L1111.9,335.8 L1114.6,341.1 L1109.2,345.1 L1098.5,346.5 L1090.4,349.2 L1082.4,351.8 L1074.4,353.2 L1066.3,354.5 L1063.6,359.9 L1069.0,365.3 L1077.0,367.9 L1079.7,376.0 L1082.4,384.0 L1087.8,394.7 L1095.8,397.4 L1103.8,394.7 L1109.2,386.7 L1111.9,378.7 L1114.6,370.6 L1111.9,362.6 M1195.0,327.7 L1205.7,322.4 L1213.7,318.3 L1224.5,322.4 L1235.2,327.7 L1248.6,333.1 L1262.0,341.1 L1270.0,343.8 L1278.1,346.5 L1286.1,350.5 L1292.3,351.3 M1292.3,351.3 L1292.3,440.0 M1142.7,374.6 L1152.1,373.3 L1160.1,370.6 L1165.5,362.6 L1168.2,354.5 L1173.5,346.5 L1178.9,341.1 L1186.9,338.4 L1195.0,335.8 L1196.3,329.1 L1192.3,326.4 L1186.9,323.7 L1176.2,322.4 L1162.8,321.0 L1152.1,321.0 M1150.8,292.9 L1157.5,292.9 L1165.5,298.2 L1173.5,303.6 L1176.2,307.6 L1170.9,309.0 L1162.8,306.3 L1156.1,300.9Z M1152.1,321.0 L1168.2,323.7 L1186.9,326.4 L1173.5,328.3 L1160.1,326.9Z M1136.0,300.9 L1140.0,302.3 L1139.2,307.6 L1136.0,306.3Z M1007.4,325.0 L1015.4,322.4 L1023.4,326.4 L1027.5,333.1 L1024.8,338.4 L1015.4,335.8 L1008.7,330.4Z M1004.7,307.6 L1012.7,306.3 L1013.3,309.5 L1005.2,310.3Z M1002.0,355.9 L1012.7,359.9 L1020.8,363.9 L1028.8,367.9 L1034.2,373.3 L1035.5,381.3 L1036.8,389.4 M1002.0,373.3 L1012.7,376.0 L1023.4,381.3 L1036.8,389.4 L1044.9,393.4 L1051.6,397.4 L1055.6,402.8 L1058.3,410.8 M1090.4,440.0 L1093.1,432.3 L1094.5,440.0 M1125.3,440.0 L1128.0,433.6 L1130.7,437.6 M363.2,440.0 L365.9,444.1 L370.0,448.2 M385.0,470.1 L391.9,464.6 L397.4,459.2 L402.8,452.3 L411.0,450.9 L419.2,452.3 L424.7,455.0 L432.9,450.9 L441.1,455.0 L449.3,459.2 L457.6,460.5 L465.8,460.5 L469.9,466.0 L474.0,475.6 L479.4,476.9 L487.6,478.3 L498.6,479.7 L509.5,481.0 L517.7,481.0 L523.2,475.6 L527.3,467.4 L532.8,465.2 L536.9,470.1 L542.4,472.8 L547.8,474.2 L556.0,476.9 L561.5,479.7 L572.5,481.0 L577.9,486.5 L580.7,494.7 L586.1,502.9 L594.4,505.7 L605.3,504.3 L610.8,502.9 L619.0,505.7 L621.7,511.1 L620.3,519.3 L619.0,527.6 L621.7,534.4 M393.3,478.3 L405.6,481.0 L416.5,483.8 L417.9,493.4 L430.2,497.5 L443.9,502.9 L457.6,507.0 L468.5,505.7 L479.4,504.3 L490.4,505.7 L501.3,507.0 L509.5,509.8 L519.1,513.9 L528.7,518.0 L539.6,520.7 L550.6,522.1 L561.5,523.4 L572.5,525.4 L583.4,524.8 L588.9,522.1 L594.4,523.4 L602.6,527.6 L610.8,530.3 L619.0,533.0 L621.7,535.8 M417.9,463.3 L419.2,475.6 L417.9,483.8 M424.7,456.4 L427.5,463.3 L417.9,463.3 M475.3,475.6 L474.0,489.2 L472.6,494.7 L476.7,504.3 M550.6,475.6 L549.2,483.8 L545.1,492.0 L538.3,493.4 L536.9,502.9 L534.2,511.1 L531.4,519.3 M512.3,509.8 L519.1,500.2 L523.2,504.3 L528.7,508.4 L530.1,519.3 M576.6,481.0 L588.9,479.7 L599.8,479.1 L612.1,480.5 L613.5,483.2 L608.0,486.0 L597.1,486.5 L586.1,488.7 L577.9,487.9Z M621.7,518.0 L632.7,516.6 L643.6,515.2 L651.8,519.3 L649.1,524.8 L640.9,533.0 L632.7,534.4 L624.4,530.3 L621.7,524.8Z M657.3,522.1 L665.5,520.7 L673.7,522.1 L677.8,527.6 L673.7,537.1 L662.7,539.9 L657.3,535.8 L660.0,530.3Z M687.4,524.8 L680.5,527.6 L679.2,535.8 L680.5,542.6 L687.4,545.3 M639.5,478.3 L646.3,478.3 L654.5,481.0 L657.3,487.9 L651.8,486.5 L643.6,483.8Z M616.2,485.1 L620.3,485.1 L620.3,487.9 L616.2,487.9Z M370.0,445.5 L375.5,448.2 L380.9,442.7 L386.4,440.0 M383.7,470.1 L386.4,467.4 L391.9,474.2 L389.2,476.9 L385.0,475.6Z M572.5,444.9 L575.7,444.1 L577.4,447.7 L573.8,448.8Z M686.0,524.8 L691.5,520.7 L698.3,516.6 L705.2,519.3 L713.4,520.7 L720.2,524.8 L721.6,533.0 L713.4,534.4 L707.9,535.8 L702.4,534.4 L694.2,539.9 L686.0,544.0 M721.6,522.1 L729.8,523.4 L738.0,522.1 L743.5,524.8 L748.9,527.6 L754.4,530.3 L754.4,535.8 L748.9,537.1 L740.7,535.8 L732.5,537.1 L724.3,535.8 L721.6,533.0 M755.8,527.6 L765.3,522.1 L776.3,522.1 L790.0,523.4 L800.9,527.6 L809.1,527.6 L820.1,527.0 L828.3,523.4 L833.7,519.3 L837.8,516.6 L839.2,522.1 L833.7,530.3 L825.5,534.4 L817.3,533.0 L809.1,535.8 L800.9,538.5 L792.7,539.9 L781.8,538.5 L770.8,537.1 L762.6,535.8 L757.1,533.0Z M833.7,524.8 L842.0,519.3 L850.2,518.0 L858.4,519.3 L862.5,522.1 L855.6,527.6 L847.4,530.3 L839.2,528.9Z M865.2,519.3 L874.8,518.0 L888.5,518.0 L891.2,522.1 L883.0,524.8 L872.0,526.2 L866.6,524.8Z M907.6,505.7 L918.6,502.9 L929.5,501.6 L933.6,504.3 L926.8,509.8 L915.8,511.1 L907.6,513.9Z M850.2,568.6 L855.6,557.6 L863.8,552.2 L874.8,546.7 L883.0,544.0 L889.8,542.6 L892.6,546.7 L889.8,554.9 L888.5,563.1 L883.0,568.6 L877.5,574.1 L869.3,578.2 L861.1,582.3 L852.9,583.6 L847.4,580.9 L848.8,574.1Z M735.2,556.3 L746.2,553.5 L758.5,552.2 L765.3,560.4 L773.6,565.9 L780.4,571.3 L781.8,576.8 L776.3,580.9 L768.1,580.9 L759.9,575.4 L751.7,568.6 L740.7,564.5 L735.2,560.4Z M844.7,579.5 L850.2,576.8 L855.6,578.2 L852.9,582.3 L846.1,583.6Z M799.5,590.5 L806.4,586.4 L811.9,587.7 L810.5,591.8 L802.3,592.7Z M832.4,597.3 L839.2,593.2 L847.4,587.7 L848.8,593.2 L842.0,598.7 L833.7,602.8Z M976.0,486.5 L980.1,485.1 L981.5,489.2 L977.4,490.6Z M945.9,498.8 L952.8,498.0 L953.6,502.4 L947.3,502.9Z M954.1,518.0 L962.3,516.6 L969.2,519.3 L962.3,521.5Z M976.0,519.3 L984.2,518.8 L989.7,520.7 L981.5,521.5Z M940.4,513.9 L943.2,513.3 L943.7,516.1 L941.0,516.6Z M772.2,445.5 L774.1,444.9 L774.9,456.4 L773.6,467.4 L771.4,456.4Z M776.3,483.8 L780.4,483.2 L781.8,486.5 L777.7,487.1Z M781.8,492.0 L785.9,491.4 L787.2,494.2 L782.3,494.7Z M732.5,470.1 L738.0,475.6 L740.7,479.7 M746.2,440.0 L754.4,442.7 L759.9,440.0 M822.8,440.0 L828.3,442.7 L833.7,440.0 M858.4,445.5 L861.1,448.2 L863.8,452.3 M1033.7,523.2 L1037.3,519.0 L1041.5,514.8 L1045.7,510.5 L1050.0,504.9 L1054.2,499.2 L1055.6,493.6 L1059.8,490.1 L1064.1,488.0 L1062.7,483.7 L1055.6,486.6 L1050.0,489.4 L1044.3,493.6 L1038.7,496.4 L1034.4,497.8 M1048.6,486.6 L1052.8,485.1 L1055.6,482.3 L1053.5,476.7 L1051.4,473.9 M1002.0,507.7 L1006.2,506.3 L1009.8,509.1 L1009.1,513.4 L1005.5,514.1 L1002.7,511.2Z M1010.5,517.6 L1012.6,516.2 L1012.2,519.0 L1010.2,519.7Z M1119.1,454.1 L1123.3,449.9 L1129.0,448.5 L1133.2,451.3 L1135.3,456.9 L1133.2,462.6 L1129.0,466.8 L1126.1,472.4 L1123.3,479.5 L1119.1,478.1 L1117.0,471.0 L1117.7,462.6Z M1121.9,440.0 L1124.7,444.2 L1126.1,448.5 M1131.8,440.0 L1134.6,442.8 L1135.3,448.5 M1078.2,440.0 L1081.0,445.6 L1085.2,451.3 L1088.0,448.5 L1090.9,442.8 L1089.5,440.0 M1217.3,440.0 L1218.7,444.2 L1222.9,448.5 L1225.7,456.9 L1227.1,462.6 L1231.4,468.2 L1235.6,473.9 L1239.8,478.1 L1244.1,480.9 L1248.3,483.7 L1251.1,489.4 L1246.9,489.4 L1242.7,488.0 L1238.4,488.7 L1234.9,489.4 L1234.2,492.2 L1237.0,495.0 L1239.8,496.4 L1242.7,499.3 L1244.1,502.1 L1242.0,507.7 L1239.8,512.0 L1238.4,517.6 L1237.0,521.8 L1234.2,524.7 L1228.5,524.7 L1222.9,525.4 L1217.3,525.4 L1211.6,526.1 L1207.4,526.1 L1210.2,517.6 L1214.4,507.7 L1220.1,500.7 L1225.7,496.4 L1231.4,495.0 L1237.0,495.0 M1241.2,519.0 L1245.5,516.9 L1251.1,518.3 L1256.8,516.9 L1262.4,516.9 L1266.6,517.6 L1270.9,523.2 L1275.1,527.5 L1279.3,533.1 L1283.6,540.0 M1292.0,440.0 L1292.0,461.2 L1289.2,468.2 L1288.5,473.9 L1289.9,479.5 L1292.0,480.9 L1292.0,540.0 M1280.9,535.0 L1286.4,540.6 L1292.0,546.2 L1292.0,535.0 M300.0,222.7 L306.3,229.0 L311.4,234.1 L314.0,240.5 L319.0,244.3 L325.4,248.1 L330.5,251.9 L334.3,254.4 L338.1,258.2 L343.1,260.8 L348.2,263.3 L350.8,268.4 L351.4,273.5 L348.2,276.0 L344.4,277.3 L343.1,281.1 L347.0,282.3 L349.5,284.9 L347.0,288.7 L341.9,291.2 L336.8,293.8 L333.0,297.6 L330.5,300.0 M306.3,225.2 L312.7,225.9 L317.8,227.8 L319.0,232.8 L316.5,234.1 L312.7,230.3 L308.9,229.0 L306.3,227.1Z M322.8,239.2 L327.9,238.6 L333.0,241.7 L334.9,246.8 L333.0,250.6 L327.9,249.3 L324.1,245.5 L322.2,242.4Z M330.5,250.6 L335.5,251.9 L338.1,255.7 L335.5,259.5 L333.0,260.8 L331.1,257.0Z M338.1,239.2 L341.9,238.6 L343.8,245.5 L345.7,251.9 L343.1,253.1 L340.6,249.3 L338.7,244.3Z M349.5,240.5 L353.3,237.9 L357.1,238.6 L358.4,243.0 L355.8,246.8 L352.0,248.1 L348.9,245.5Z M354.6,243.0 L359.6,244.3 L360.9,248.1 L357.1,250.6 L354.6,248.1Z M360.9,237.9 L367.3,236.6 L372.3,237.9 L376.1,241.7 L377.4,246.8 L374.9,250.6 L369.8,251.9 L364.7,250.6 L362.2,246.8Z M366.0,240.5 L371.1,239.8 L373.0,244.3 L369.2,246.8 L366.0,244.3Z M351.4,239.8 L353.9,239.2 L354.6,241.7 L352.3,242.4Z M355.8,240.5 L357.7,240.2 L358.1,242.0 L356.1,242.2Z M362.2,255.7 L366.0,258.2 L369.8,263.3 L371.1,268.4 L373.6,273.5 L376.1,276.0 L378.7,281.1 L381.2,282.3 M364.7,259.5 L368.5,260.1 L370.4,265.8 L368.5,269.6 L366.0,265.8Z M368.5,269.6 L372.3,270.9 L373.6,276.0 L371.1,278.5 L369.2,274.7Z M360.9,282.3 L366.0,281.1 L371.1,283.6 L372.3,288.7 L369.8,292.5 L366.0,293.8 L363.5,289.9 L360.9,286.1Z M363.5,260.8 L365.4,260.5 L366.0,262.7 L364.1,263.0Z M366.6,263.3 L368.3,263.0 L368.8,265.2 L367.0,265.6Z M456.7,148.4 L460.6,145.5 L463.5,146.5 L466.3,152.2 L468.2,156.1 L467.3,159.9 L464.4,160.9 L461.5,161.8 L458.7,165.7 L457.7,162.8 L460.6,159.9 L456.7,154.2 L455.8,151.3Z M397.3,180.1 L401.1,179.1 L403.0,183.9 L400.7,187.2 L398.2,184.9Z M410.7,172.4 L416.5,171.1 L419.9,175.3 L418.4,180.1 L414.1,181.0 L411.7,177.2Z M408.8,183.3 L412.2,182.9 L413.6,186.8 L410.3,188.7Z M412.2,189.7 L414.9,189.1 L415.7,192.2 L412.6,192.9Z M456.4,130.2 L458.7,129.2 L459.0,132.7 L456.7,133.1Z M403.0,175.3 L404.9,174.9 L405.3,177.2 L403.4,177.6Z M968.8,202.0 L973.9,197.0 L979.0,194.4 L981.0,199.5 L979.5,205.8 L975.2,210.9 L971.4,212.2 L969.3,207.1Z M963.8,207.1 L961.2,210.9 L956.1,218.5 L952.3,223.6 L949.8,231.2 L949.8,238.8 L948.5,246.4 L947.3,254.1 L948.5,261.7 L951.1,269.3 L949.8,276.9 L946.0,284.5 L943.5,292.1 L947.3,295.9 L951.1,292.1 L954.9,287.1 L958.7,292.1 L963.8,297.2 L968.8,299.7 L972.6,297.2 L968.8,289.6 L965.0,282.0 L961.2,271.8 L959.9,261.7 L961.2,259.1 L968.8,257.9 L976.4,259.1 L981.5,261.7 L986.6,266.8 L984.1,259.1 L979.0,256.6 L971.4,251.5 L968.8,247.7 L973.9,243.9 L977.7,240.1 L981.5,236.3 L982.8,228.7 L980.3,225.6 L973.9,226.1 L968.8,231.2 L963.8,236.3 L958.7,240.1 L956.1,243.9 L954.9,237.6 L957.4,231.2 L961.2,223.6 L963.8,216.0 L965.0,209.6Z M946.5,252.8 L948.5,252.3 L949.0,255.3 L946.8,255.8Z M946.5,260.4 L948.5,259.9 L949.0,262.9 L946.8,263.5Z M953.6,294.7 L957.4,292.1 L960.7,295.9 L958.7,299.7 L954.9,299.2Z M996.8,273.1 L1000.6,271.8 L1004.4,276.9 L1001.8,279.4 L998.0,276.9Z M1019.6,276.9 L1027.2,274.4 L1037.4,273.1 L1046.2,276.9 L1047.5,282.0 L1039.9,285.8 L1029.7,287.1 L1022.1,283.2Z M1024.7,297.2 L1034.8,295.9 L1042.4,299.7 L1045.0,307.4 L1042.4,312.4 L1037.4,309.9 L1032.3,302.3Z M972.6,289.6 L977.7,290.1 L978.5,292.6 L973.4,292.1Z M1004.4,307.4 L1012.0,306.1 L1014.5,308.6 L1006.9,310.4Z" fill="none" stroke="#000" stroke-width="0.9" stroke-linejoin="round"/>
<g stroke="#c2b4c2" stroke-width="1.1" fill="none"><line x1="53.3" y1="122.80" x2="1317.3" y2="122.80" stroke-dasharray="2.4 9.05" stroke-dashoffset="0.3"/><line x1="53.3" y1="273.10" x2="1317.3" y2="273.10" stroke-dasharray="2.4 9.05" stroke-dashoffset="0.3"/><line x1="53.3" y1="423.35" x2="1317.3" y2="423.35" stroke-dasharray="2.4 9.05" stroke-dashoffset="0.3"/><line x1="53.3" y1="573.50" x2="1317.3" y2="573.50" stroke-dasharray="2.4 9.05" stroke-dashoffset="0.3"/><line x1="255.5" y1="62.6" x2="255.5" y2="634.2" stroke-dasharray="2.4 9.01" stroke-dashoffset="1.2"/><line x1="508.3" y1="62.6" x2="508.3" y2="634.2" stroke-dasharray="2.4 9.01" stroke-dashoffset="1.2"/><line x1="761.1" y1="62.6" x2="761.1" y2="634.2" stroke-dasharray="2.4 9.01" stroke-dashoffset="1.2"/><line x1="1013.9" y1="62.6" x2="1013.9" y2="634.2" stroke-dasharray="2.4 9.01" stroke-dashoffset="1.2"/><line x1="1266.7" y1="62.6" x2="1266.7" y2="634.2" stroke-dasharray="2.4 9.01" stroke-dashoffset="1.2"/></g>
<rect x="974" y="608" width="343" height="25" fill="rgba(0,0,0,0.5)"/>
<text x="981" y="625.8" font-family="Liberation Sans" font-size="14" fill="#fff" textLength="334.5" lengthAdjust="spacing">Copyright Sub Bidang Prediksi Cuaca BMKG, 2026</text>
</g>
<rect x="53.3" y="62.6" width="1264.0" height="571.6" fill="none" stroke="#000" stroke-width="2"/>
<g stroke="#333" stroke-width="1"><line x1="47" y1="122.8" x2="53" y2="122.8"/><line x1="47" y1="273.1" x2="53" y2="273.1"/><line x1="47" y1="423.4" x2="53" y2="423.4"/><line x1="47" y1="573.5" x2="53" y2="573.5"/><line x1="255.5" y1="633" x2="255.5" y2="640"/><line x1="508.3" y1="633" x2="508.3" y2="640"/><line x1="761.1" y1="633" x2="761.1" y2="640"/><line x1="1013.9" y1="633" x2="1013.9" y2="640"/><line x1="1266.7" y1="633" x2="1266.7" y2="640"/></g>
<rect x="1324" y="62.70" width="25" height="52.22" fill="#c00000"/><rect x="1324" y="114.52" width="25" height="52.22" fill="#f40000"/><rect x="1324" y="166.34" width="25" height="52.22" fill="#e8680a"/><rect x="1324" y="218.15" width="25" height="52.22" fill="#e8b408"/><rect x="1324" y="269.97" width="25" height="52.22" fill="#dcea08"/><rect x="1324" y="321.79" width="25" height="52.22" fill="#8aec0a"/><rect x="1324" y="373.61" width="25" height="52.22" fill="#08ee30"/><rect x="1324" y="425.43" width="25" height="52.22" fill="#068eea"/><rect x="1324" y="477.25" width="25" height="52.22" fill="#2a58e0"/><rect x="1324" y="529.06" width="25" height="52.22" fill="#a808ea"/><rect x="1324" y="580.88" width="25" height="52.22" fill="#a0005a"/>
<g font-size="21" font-style="italic" fill="#000"><text x="1356.8" y="121.5">16</text><text x="1356.8" y="173.3">15</text><text x="1356.8" y="225.2">14</text><text x="1356.8" y="277.0">13</text><text x="1356.8" y="328.8">12</text><text x="1356.8" y="380.6">11</text><text x="1356.8" y="432.4">10</text><text x="1356.8" y="484.2">9</text><text x="1356.8" y="536.1">8</text><text x="1356.8" y="587.9">5</text></g>
<g font-size="19" font-style="italic" fill="#000" lengthAdjust="spacingAndGlyphs">
<text x="43.5" y="129.6" text-anchor="end" textLength="23.5" lengthAdjust="spacingAndGlyphs">5N</text>
<text x="42.8" y="279.7" text-anchor="end" textLength="24.5" lengthAdjust="spacingAndGlyphs">EQ</text>
<text x="42.8" y="429.8" text-anchor="end" textLength="21.5" lengthAdjust="spacingAndGlyphs">5S</text>
<text x="42.8" y="579.8" text-anchor="end" textLength="30" lengthAdjust="spacingAndGlyphs">10S</text>
<text x="256.5" y="656.9" text-anchor="middle" textLength="40.5" lengthAdjust="spacingAndGlyphs">100E</text>
<text x="509.3" y="656.9" text-anchor="middle" textLength="40.5" lengthAdjust="spacingAndGlyphs">110E</text>
<text x="762.1" y="656.9" text-anchor="middle" textLength="40.5" lengthAdjust="spacingAndGlyphs">120E</text>
<text x="1014.9" y="656.9" text-anchor="middle" textLength="40.5" lengthAdjust="spacingAndGlyphs">130E</text>
<text x="1267.7" y="656.9" text-anchor="middle" textLength="40.5" lengthAdjust="spacingAndGlyphs">140E</text>
</g>
<text x="102.8" y="21" font-size="24" font-weight="bold" letter-spacing="0.9">700 hPa Temperature (°C)</text>
<text x="102.5" y="51.7" font-size="23.6" font-weight="bold" font-style="italic" letter-spacing="0.1">Valid: Wed 08 April 2026 09 UTC</text>
<text x="1349.3" y="20.8" font-size="22.6" font-weight="bold" letter-spacing="0.77" text-anchor="end">Forecast Hour: +033</text>
<text x="1349.1" y="51.1" font-size="22.6" font-weight="bold" font-style="italic" letter-spacing="0.56" text-anchor="end">Initial Run: Tue 07 April 2026 00 UTC</text>
<text x="50.6" y="690.7" font-size="20" letter-spacing="1.1">Model: IFS-0.125</text>
<text x="1351.1" y="690.7" font-size="20" letter-spacing="1.43" text-anchor="end">Source: ECMWF-CIPS BMKG</text>
<text x="532" y="677.3" font-size="18" font-weight="bold" font-style="italic" fill="#ff1c1c" letter-spacing="0.79">Min Value: 9.0 °C</text>
<text x="699.5" y="677.5" font-size="18">|</text>
<text x="711" y="677.3" font-size="18" font-weight="bold" font-style="italic" fill="#0c20ff" letter-spacing="0.89">Max Value: 12.7 °C</text>
<defs><clipPath id="lc"><circle cx="75.1" cy="24.3" r="23.6"/></clipPath></defs>
<g clip-path="url(#lc)">
<g fill="#0646c8">
<rect x="50" y="0.8" width="50" height="3.9"/>
<path d="M50 7.9 H100 V11 H74.5 C72.5 9.6 68.5 9.6 66.3 11 H50 Z"/>
<path d="M50 13.2 H62.3 V16 C60 15 56 15 53.5 16.2 H50 Z"/>
<path d="M78.3 13.3 H100 V15.9 H85 C83 14.9 80 14.6 78.8 15.8 Z"/>
<rect x="87.6" y="17.3" width="12" height="1.8"/>
<rect x="94.3" y="20" width="6" height="1.1"/>
</g>
<g fill="#2f9a16">
<rect x="50" y="28" width="13.6" height="0.9" opacity="0.6"/>
<rect x="50" y="29.9" width="15.8" height="1.2"/>
<rect x="67" y="31" width="33" height="0.9" opacity="0.6"/>
<path d="M50 32.8 H100 V34.1 H70 V34.7 H50 Z"/>
<rect x="72" y="36" width="28" height="1.9"/>
<path d="M50 37.8 H73 L75.3 40.3 H50 Z"/>
<path d="M76.5 40.9 H100 V43.5 H78.8 Z"/>
<path d="M50 43.8 H79.5 L81.6 47 H50 Z"/>
</g>
</g>
<rect x="51.4" y="23.8" width="47.4" height="1.2" fill="#a8a8a8"/>
<text x="52.3" y="59.4" font-size="14.2" font-weight="bold" letter-spacing="0.75" fill="#111">BMKG</text>

</svg>
</body></html>
